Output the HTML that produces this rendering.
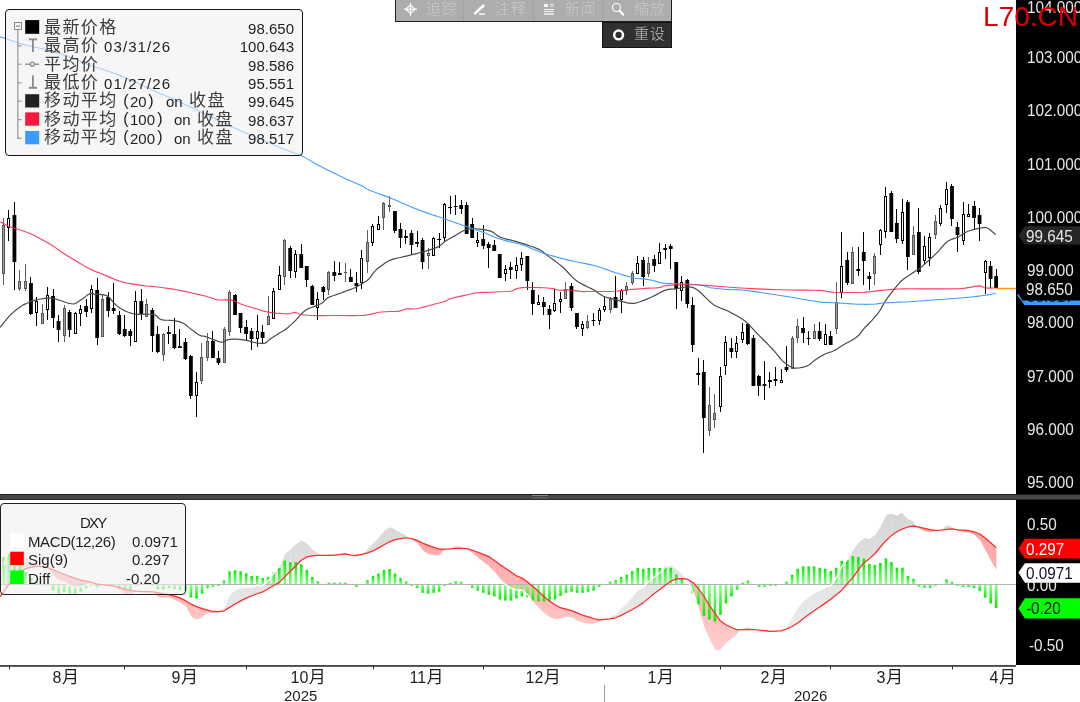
<!DOCTYPE html>
<html lang="zh-CN">
<head>
<meta charset="utf-8">
<title>DXY</title>
<style>
html,body{margin:0;padding:0;background:#fff;}
body{width:1080px;height:702px;overflow:hidden;position:relative;font-family:"Liberation Sans","Noto Sans CJK SC",sans-serif;}
.a{position:absolute;white-space:pre;line-height:1;}
.cj{font-family:"Liberation Sans","Noto Sans CJK SC",sans-serif;}
.lg{font-size:15px;color:#1e1e1e;}
.lc{font-size:17px;color:#3c3c3c;letter-spacing:1.4px;font-weight:400;}
.ax{font-size:16px;color:#e8e8e8;transform:scaleX(0.955);transform-origin:0 0;}
.xl{font-size:16px;color:#1e1e1e;}
.tb{font-size:15px;color:#c8c8c8;font-weight:300;letter-spacing:0.8px;}
svg{position:absolute;left:0;top:0;}
</style>
</head>
<body>
<svg width="1080" height="702" viewBox="0 0 1080 702">
<defs>
<linearGradient id="gu" x1="0" y1="0" x2="0" y2="1"><stop offset="0" stop-color="#00f000"/><stop offset="1" stop-color="#8cff8c"/></linearGradient>
<linearGradient id="gd" x1="0" y1="0" x2="0" y2="1"><stop offset="0" stop-color="#8cff8c"/><stop offset="1" stop-color="#00f000"/></linearGradient>
<linearGradient id="fg" gradientUnits="userSpaceOnUse" x1="0" y1="510" x2="0" y2="650"><stop offset="0" stop-color="#d5d5d5"/><stop offset="1" stop-color="#efefef"/></linearGradient>
<linearGradient id="fp" gradientUnits="userSpaceOnUse" x1="0" y1="510" x2="0" y2="650"><stop offset="0" stop-color="#ff9a9a"/><stop offset="1" stop-color="#ffcdcd"/></linearGradient>
<clipPath id="cm"><rect x="0" y="0" width="1016" height="494"/></clipPath>
<clipPath id="cd"><rect x="0" y="500" width="1016" height="165"/></clipPath>
</defs>
<g clip-path="url(#cm)" shape-rendering="crispEdges">
<rect x="3" y="218" width="1" height="67" fill="#5e5e5e"/>
<path d="M2 225h3v49h-3z" fill="#555"/><rect x="3" y="226" width="1" height="47" fill="#a0a0a0"/>
<rect x="8" y="210" width="1" height="31" fill="#000"/>
<path d="M7 218h3v10h-3z" fill="#000"/><rect x="8" y="219" width="1" height="8" fill="#fff"/>
<rect x="14" y="202" width="1" height="88" fill="#000"/>
<rect x="12.53" y="215" width="3.8" height="47" fill="#000" shape-rendering="geometricPrecision"/>
<rect x="19" y="270" width="1" height="21" fill="#5e5e5e"/>
<path d="M18 281h3v8h-3z" fill="#555"/><rect x="19" y="282" width="1" height="6" fill="#a0a0a0"/>
<rect x="25" y="264" width="1" height="27" fill="#5e5e5e"/>
<path d="M24 281h3v8h-3z" fill="#555"/><rect x="25" y="282" width="1" height="6" fill="#a0a0a0"/>
<rect x="30" y="277" width="1" height="38" fill="#000"/>
<rect x="29.07" y="283" width="3.8" height="31" fill="#000" shape-rendering="geometricPrecision"/>
<rect x="36" y="297" width="1" height="29" fill="#000"/>
<path d="M35 301h3v12h-3z" fill="#000"/><rect x="36" y="302" width="1" height="10" fill="#fff"/>
<rect x="42" y="304" width="1" height="20" fill="#5e5e5e"/>
<path d="M41 313h3v11h-3z" fill="#555"/><rect x="42" y="314" width="1" height="9" fill="#a0a0a0"/>
<rect x="47" y="287" width="1" height="33" fill="#000"/>
<path d="M46 295h3v15h-3z" fill="#000"/><rect x="47" y="296" width="1" height="13" fill="#fff"/>
<rect x="53" y="289" width="1" height="39" fill="#000"/>
<rect x="51.13" y="296" width="3.8" height="22" fill="#000" shape-rendering="geometricPrecision"/>
<rect x="58" y="315" width="1" height="27" fill="#000"/>
<rect x="56.65" y="321" width="3.8" height="9" fill="#000" shape-rendering="geometricPrecision"/>
<rect x="64" y="305" width="1" height="37" fill="#5e5e5e"/>
<path d="M63 308h3v28h-3z" fill="#555"/><rect x="64" y="309" width="1" height="26" fill="#a0a0a0"/>
<rect x="69" y="310" width="1" height="27" fill="#000"/>
<rect x="67.68" y="312" width="3.8" height="18" fill="#000" shape-rendering="geometricPrecision"/>
<rect x="75" y="312" width="1" height="22" fill="#000"/>
<path d="M74 313h3v21h-3z" fill="#000"/><rect x="75" y="314" width="1" height="19" fill="#fff"/>
<rect x="80" y="305" width="1" height="21" fill="#000"/>
<path d="M79 309h3v5h-3z" fill="#000"/><rect x="80" y="310" width="1" height="3" fill="#fff"/>
<rect x="86" y="299" width="1" height="18" fill="#000"/>
<rect x="84.22" y="306" width="3.8" height="6" fill="#000" shape-rendering="geometricPrecision"/>
<rect x="91" y="285" width="1" height="28" fill="#000"/>
<path d="M90 289h3v20h-3z" fill="#000"/><rect x="91" y="290" width="1" height="18" fill="#fff"/>
<rect x="97" y="278" width="1" height="67" fill="#000"/>
<rect x="95.25" y="290" width="3.8" height="48" fill="#000" shape-rendering="geometricPrecision"/>
<rect x="102" y="294" width="1" height="43" fill="#5e5e5e"/>
<path d="M101 299h3v38h-3z" fill="#555"/><rect x="102" y="300" width="1" height="36" fill="#a0a0a0"/>
<rect x="108" y="292" width="1" height="25" fill="#000"/>
<rect x="106.28" y="297" width="3.8" height="14" fill="#000" shape-rendering="geometricPrecision"/>
<rect x="113" y="283" width="1" height="31" fill="#000"/>
<rect x="111.80" y="308" width="3.8" height="3" fill="#000" shape-rendering="geometricPrecision"/>
<rect x="119" y="311" width="1" height="24" fill="#000"/>
<rect x="117.31" y="315" width="3.8" height="19" fill="#000" shape-rendering="geometricPrecision"/>
<rect x="124" y="315" width="1" height="22" fill="#000"/>
<rect x="122.83" y="329" width="3.8" height="7" fill="#000" shape-rendering="geometricPrecision"/>
<rect x="130" y="329" width="1" height="17" fill="#000"/>
<rect x="128.34" y="331" width="3.8" height="5" fill="#000" shape-rendering="geometricPrecision"/>
<rect x="135" y="291" width="1" height="51" fill="#000"/>
<path d="M134 301h3v41h-3z" fill="#000"/><rect x="135" y="302" width="1" height="39" fill="#fff"/>
<rect x="141" y="289" width="1" height="31" fill="#000"/>
<rect x="139.38" y="301" width="3.8" height="13" fill="#000" shape-rendering="geometricPrecision"/>
<rect x="146" y="299" width="1" height="18" fill="#5e5e5e"/>
<path d="M145 304h3v13h-3z" fill="#555"/><rect x="146" y="305" width="1" height="11" fill="#a0a0a0"/>
<rect x="152" y="308" width="1" height="44" fill="#000"/>
<rect x="150.41" y="310" width="3.8" height="26" fill="#000" shape-rendering="geometricPrecision"/>
<rect x="157" y="326" width="1" height="27" fill="#000"/>
<rect x="155.92" y="334" width="3.8" height="18" fill="#000" shape-rendering="geometricPrecision"/>
<rect x="163" y="333" width="1" height="28" fill="#5e5e5e"/>
<path d="M162 334h3v21h-3z" fill="#555"/><rect x="163" y="335" width="1" height="19" fill="#a0a0a0"/>
<rect x="168" y="326" width="1" height="18" fill="#000"/>
<rect x="166.95" y="332" width="3.8" height="2" fill="#000" shape-rendering="geometricPrecision"/>
<rect x="174" y="318" width="1" height="31" fill="#000"/>
<rect x="172.47" y="334" width="3.8" height="14" fill="#000" shape-rendering="geometricPrecision"/>
<rect x="179" y="329" width="1" height="19" fill="#000"/>
<rect x="177.98" y="346" width="3.8" height="2" fill="#000" shape-rendering="geometricPrecision"/>
<rect x="185" y="338" width="1" height="22" fill="#000"/>
<rect x="183.49" y="342" width="3.8" height="17" fill="#000" shape-rendering="geometricPrecision"/>
<rect x="190" y="355" width="1" height="44" fill="#000"/>
<rect x="189.01" y="356" width="3.8" height="40" fill="#000" shape-rendering="geometricPrecision"/>
<rect x="196" y="372" width="1" height="45" fill="#000"/>
<path d="M195 382h3v14h-3z" fill="#000"/><rect x="196" y="383" width="1" height="12" fill="#fff"/>
<rect x="201" y="343" width="1" height="41" fill="#5e5e5e"/>
<path d="M200 357h3v24h-3z" fill="#555"/><rect x="201" y="358" width="1" height="22" fill="#a0a0a0"/>
<rect x="207" y="333" width="1" height="28" fill="#5e5e5e"/>
<path d="M206 341h3v17h-3z" fill="#555"/><rect x="207" y="342" width="1" height="15" fill="#a0a0a0"/>
<rect x="212" y="331" width="1" height="27" fill="#000"/>
<rect x="211.07" y="341" width="3.8" height="17" fill="#000" shape-rendering="geometricPrecision"/>
<rect x="218" y="351" width="1" height="14" fill="#000"/>
<rect x="216.58" y="358" width="3.8" height="5" fill="#000" shape-rendering="geometricPrecision"/>
<rect x="224" y="327" width="1" height="36" fill="#5e5e5e"/>
<path d="M223 329h3v34h-3z" fill="#555"/><rect x="224" y="330" width="1" height="32" fill="#a0a0a0"/>
<rect x="229" y="290" width="1" height="46" fill="#5e5e5e"/>
<path d="M228 292h3v40h-3z" fill="#555"/><rect x="229" y="293" width="1" height="38" fill="#a0a0a0"/>
<rect x="235" y="294" width="1" height="21" fill="#000"/>
<rect x="233.13" y="295" width="3.8" height="20" fill="#000" shape-rendering="geometricPrecision"/>
<rect x="240" y="313" width="1" height="20" fill="#000"/>
<rect x="238.64" y="313" width="3.8" height="15" fill="#000" shape-rendering="geometricPrecision"/>
<rect x="246" y="320" width="1" height="21" fill="#000"/>
<rect x="244.16" y="327" width="3.8" height="7" fill="#000" shape-rendering="geometricPrecision"/>
<rect x="251" y="328" width="1" height="22" fill="#000"/>
<rect x="249.67" y="331" width="3.8" height="8" fill="#000" shape-rendering="geometricPrecision"/>
<rect x="257" y="315" width="1" height="32" fill="#000"/>
<path d="M256 331h3v8h-3z" fill="#000"/><rect x="257" y="332" width="1" height="6" fill="#fff"/>
<rect x="262" y="325" width="1" height="19" fill="#000"/>
<rect x="260.70" y="332" width="3.8" height="6" fill="#000" shape-rendering="geometricPrecision"/>
<rect x="268" y="296" width="1" height="29" fill="#5e5e5e"/>
<path d="M267 316h3v9h-3z" fill="#555"/><rect x="268" y="317" width="1" height="7" fill="#a0a0a0"/>
<rect x="273" y="288" width="1" height="31" fill="#000"/>
<path d="M272 291h3v28h-3z" fill="#000"/><rect x="273" y="292" width="1" height="26" fill="#fff"/>
<rect x="279" y="266" width="1" height="24" fill="#000"/>
<path d="M278 275h3v15h-3z" fill="#000"/><rect x="279" y="276" width="1" height="13" fill="#fff"/>
<rect x="284" y="239" width="1" height="46" fill="#5e5e5e"/>
<path d="M283 240h3v37h-3z" fill="#555"/><rect x="284" y="241" width="1" height="35" fill="#a0a0a0"/>
<rect x="290" y="246" width="1" height="32" fill="#000"/>
<rect x="288.28" y="248" width="3.8" height="23" fill="#000" shape-rendering="geometricPrecision"/>
<rect x="295" y="250" width="1" height="28" fill="#000"/>
<path d="M294 254h3v18h-3z" fill="#000"/><rect x="295" y="255" width="1" height="16" fill="#fff"/>
<rect x="301" y="244" width="1" height="24" fill="#000"/>
<rect x="299.31" y="254" width="3.8" height="14" fill="#000" shape-rendering="geometricPrecision"/>
<rect x="306" y="266" width="1" height="21" fill="#000"/>
<rect x="304.82" y="266" width="3.8" height="14" fill="#000" shape-rendering="geometricPrecision"/>
<rect x="312" y="285" width="1" height="20" fill="#000"/>
<rect x="310.34" y="286" width="3.8" height="19" fill="#000" shape-rendering="geometricPrecision"/>
<rect x="317" y="292" width="1" height="28" fill="#000"/>
<path d="M316 299h3v9h-3z" fill="#000"/><rect x="317" y="300" width="1" height="7" fill="#fff"/>
<rect x="323" y="286" width="1" height="14" fill="#000"/>
<rect x="321.37" y="287" width="3.8" height="5" fill="#000" shape-rendering="geometricPrecision"/>
<rect x="328" y="271" width="1" height="24" fill="#5e5e5e"/>
<path d="M327 272h3v18h-3z" fill="#555"/><rect x="328" y="273" width="1" height="16" fill="#a0a0a0"/>
<rect x="334" y="261" width="1" height="20" fill="#000"/>
<rect x="332.40" y="272" width="3.8" height="4" fill="#000" shape-rendering="geometricPrecision"/>
<rect x="339" y="262" width="1" height="13" fill="#000"/>
<rect x="337.91" y="273" width="3.8" height="2" fill="#000" shape-rendering="geometricPrecision"/>
<rect x="345" y="263" width="1" height="19" fill="#5e5e5e"/>
<rect x="344" y="272" width="3" height="1" fill="#555"/>
<rect x="350" y="269" width="1" height="13" fill="#000"/>
<rect x="348.94" y="277" width="3.8" height="5" fill="#000" shape-rendering="geometricPrecision"/>
<rect x="356" y="272" width="1" height="20" fill="#000"/>
<rect x="354.46" y="283" width="3.8" height="3" fill="#000" shape-rendering="geometricPrecision"/>
<rect x="361" y="250" width="1" height="39" fill="#000"/>
<path d="M360 258h3v25h-3z" fill="#000"/><rect x="361" y="259" width="1" height="23" fill="#fff"/>
<rect x="367" y="230" width="1" height="43" fill="#5e5e5e"/>
<path d="M366 242h3v20h-3z" fill="#555"/><rect x="367" y="243" width="1" height="18" fill="#a0a0a0"/>
<rect x="372" y="224" width="1" height="22" fill="#000"/>
<path d="M371 226h3v17h-3z" fill="#000"/><rect x="372" y="227" width="1" height="15" fill="#fff"/>
<rect x="378" y="216" width="1" height="14" fill="#000"/>
<path d="M377 224h3v6h-3z" fill="#000"/><rect x="378" y="225" width="1" height="4" fill="#fff"/>
<rect x="383" y="202" width="1" height="28" fill="#5e5e5e"/>
<path d="M382 203h3v15h-3z" fill="#555"/><rect x="383" y="204" width="1" height="13" fill="#a0a0a0"/>
<rect x="389" y="196" width="1" height="16" fill="#5e5e5e"/>
<rect x="388" y="205" width="3" height="2" fill="#555"/>
<rect x="394" y="211" width="1" height="22" fill="#000"/>
<rect x="393.06" y="211" width="3.8" height="20" fill="#000" shape-rendering="geometricPrecision"/>
<rect x="400" y="223" width="1" height="25" fill="#000"/>
<rect x="398.58" y="229" width="3.8" height="9" fill="#000" shape-rendering="geometricPrecision"/>
<rect x="405" y="230" width="1" height="14" fill="#000"/>
<rect x="404.09" y="236" width="3.8" height="2" fill="#000" shape-rendering="geometricPrecision"/>
<rect x="411" y="230" width="1" height="24" fill="#000"/>
<rect x="409.61" y="233" width="3.8" height="12" fill="#000" shape-rendering="geometricPrecision"/>
<rect x="417" y="231" width="1" height="16" fill="#000"/>
<rect x="415.12" y="242" width="3.8" height="2" fill="#000" shape-rendering="geometricPrecision"/>
<rect x="422" y="238" width="1" height="31" fill="#000"/>
<rect x="420.64" y="240" width="3.8" height="22" fill="#000" shape-rendering="geometricPrecision"/>
<rect x="428" y="248" width="1" height="21" fill="#5e5e5e"/>
<path d="M427 253h3v3h-3z" fill="#555"/><rect x="428" y="254" width="1" height="1" fill="#a0a0a0"/>
<rect x="433" y="237" width="1" height="19" fill="#000"/>
<path d="M432 238h3v18h-3z" fill="#000"/><rect x="433" y="239" width="1" height="16" fill="#fff"/>
<rect x="439" y="233" width="1" height="15" fill="#000"/>
<rect x="437.19" y="239" width="3.8" height="1" fill="#000" shape-rendering="geometricPrecision"/>
<rect x="444" y="203" width="1" height="39" fill="#000"/>
<path d="M443 204h3v34h-3z" fill="#000"/><rect x="444" y="205" width="1" height="32" fill="#fff"/>
<rect x="450" y="196" width="1" height="18" fill="#000"/>
<rect x="448.21" y="207" width="3.8" height="1" fill="#000" shape-rendering="geometricPrecision"/>
<rect x="455" y="195" width="1" height="20" fill="#000"/>
<rect x="453.73" y="206" width="3.8" height="1" fill="#000" shape-rendering="geometricPrecision"/>
<rect x="461" y="200" width="1" height="14" fill="#000"/>
<rect x="459.24" y="205" width="3.8" height="4" fill="#000" shape-rendering="geometricPrecision"/>
<rect x="466" y="202" width="1" height="32" fill="#000"/>
<rect x="464.76" y="205" width="3.8" height="29" fill="#000" shape-rendering="geometricPrecision"/>
<rect x="472" y="218" width="1" height="20" fill="#000"/>
<rect x="470.27" y="224" width="3.8" height="14" fill="#000" shape-rendering="geometricPrecision"/>
<rect x="477" y="232" width="1" height="15" fill="#000"/>
<path d="M476 240h3v3h-3z" fill="#000"/><rect x="477" y="241" width="1" height="1" fill="#fff"/>
<rect x="483" y="225" width="1" height="24" fill="#000"/>
<rect x="481.30" y="239" width="3.8" height="7" fill="#000" shape-rendering="geometricPrecision"/>
<rect x="488" y="242" width="1" height="26" fill="#000"/>
<rect x="486.82" y="244" width="3.8" height="4" fill="#000" shape-rendering="geometricPrecision"/>
<rect x="494" y="240" width="1" height="11" fill="#000"/>
<rect x="492.33" y="245" width="3.8" height="6" fill="#000" shape-rendering="geometricPrecision"/>
<rect x="499" y="254" width="1" height="24" fill="#000"/>
<rect x="497.85" y="254" width="3.8" height="24" fill="#000" shape-rendering="geometricPrecision"/>
<rect x="505" y="265" width="1" height="16" fill="#000"/>
<path d="M504 269h3v5h-3z" fill="#000"/><rect x="505" y="270" width="1" height="3" fill="#fff"/>
<rect x="510" y="262" width="1" height="17" fill="#000"/>
<rect x="508.88" y="267" width="3.8" height="3" fill="#000" shape-rendering="geometricPrecision"/>
<rect x="516" y="257" width="1" height="22" fill="#000"/>
<path d="M515 265h3v6h-3z" fill="#000"/><rect x="516" y="266" width="1" height="4" fill="#fff"/>
<rect x="521" y="252" width="1" height="19" fill="#000"/>
<path d="M520 258h3v7h-3z" fill="#000"/><rect x="521" y="259" width="1" height="5" fill="#fff"/>
<rect x="527" y="256" width="1" height="34" fill="#000"/>
<rect x="525.42" y="256" width="3.8" height="25" fill="#000" shape-rendering="geometricPrecision"/>
<rect x="532" y="282" width="1" height="33" fill="#000"/>
<rect x="530.94" y="290" width="3.8" height="14" fill="#000" shape-rendering="geometricPrecision"/>
<rect x="538" y="295" width="1" height="10" fill="#000"/>
<path d="M537 302h3v3h-3z" fill="#000"/><rect x="538" y="303" width="1" height="1" fill="#fff"/>
<rect x="543" y="297" width="1" height="18" fill="#000"/>
<rect x="541.97" y="302" width="3.8" height="5" fill="#000" shape-rendering="geometricPrecision"/>
<rect x="549" y="305" width="1" height="24" fill="#000"/>
<rect x="547.49" y="309" width="3.8" height="6" fill="#000" shape-rendering="geometricPrecision"/>
<rect x="554" y="289" width="1" height="23" fill="#000"/>
<path d="M553 303h3v8h-3z" fill="#000"/><rect x="554" y="304" width="1" height="6" fill="#fff"/>
<rect x="560" y="292" width="1" height="21" fill="#000"/>
<path d="M559 299h3v3h-3z" fill="#000"/><rect x="560" y="300" width="1" height="1" fill="#fff"/>
<rect x="565" y="282" width="1" height="17" fill="#5e5e5e"/>
<path d="M564 289h3v10h-3z" fill="#555"/><rect x="565" y="290" width="1" height="8" fill="#a0a0a0"/>
<rect x="571" y="283" width="1" height="28" fill="#000"/>
<rect x="569.54" y="286" width="3.8" height="22" fill="#000" shape-rendering="geometricPrecision"/>
<rect x="576" y="313" width="1" height="16" fill="#000"/>
<rect x="575.06" y="313" width="3.8" height="14" fill="#000" shape-rendering="geometricPrecision"/>
<rect x="582" y="321" width="1" height="15" fill="#000"/>
<path d="M581 324h3v5h-3z" fill="#000"/><rect x="582" y="325" width="1" height="3" fill="#fff"/>
<rect x="587" y="315" width="1" height="14" fill="#5e5e5e"/>
<path d="M586 321h3v7h-3z" fill="#555"/><rect x="587" y="322" width="1" height="5" fill="#a0a0a0"/>
<rect x="593" y="313" width="1" height="13" fill="#000"/>
<rect x="591.61" y="320" width="3.8" height="1" fill="#000" shape-rendering="geometricPrecision"/>
<rect x="599" y="308" width="1" height="17" fill="#000"/>
<path d="M598 310h3v11h-3z" fill="#000"/><rect x="599" y="311" width="1" height="9" fill="#fff"/>
<rect x="604" y="297" width="1" height="15" fill="#000"/>
<path d="M603 306h3v4h-3z" fill="#000"/><rect x="604" y="307" width="1" height="2" fill="#fff"/>
<rect x="610" y="297" width="1" height="16" fill="#5e5e5e"/>
<path d="M609 299h3v11h-3z" fill="#555"/><rect x="610" y="300" width="1" height="9" fill="#a0a0a0"/>
<rect x="615" y="276" width="1" height="32" fill="#000"/>
<rect x="613.66" y="297" width="3.8" height="11" fill="#000" shape-rendering="geometricPrecision"/>
<rect x="621" y="289" width="1" height="24" fill="#000"/>
<path d="M620 290h3v10h-3z" fill="#000"/><rect x="621" y="291" width="1" height="8" fill="#fff"/>
<rect x="626" y="282" width="1" height="13" fill="#5e5e5e"/>
<path d="M625 286h3v5h-3z" fill="#555"/><rect x="626" y="287" width="1" height="3" fill="#a0a0a0"/>
<rect x="632" y="271" width="1" height="14" fill="#5e5e5e"/>
<path d="M631 273h3v10h-3z" fill="#555"/><rect x="632" y="274" width="1" height="8" fill="#a0a0a0"/>
<rect x="637" y="256" width="1" height="18" fill="#000"/>
<path d="M636 263h3v11h-3z" fill="#000"/><rect x="637" y="264" width="1" height="9" fill="#fff"/>
<rect x="643" y="257" width="1" height="29" fill="#000"/>
<rect x="641.24" y="260" width="3.8" height="17" fill="#000" shape-rendering="geometricPrecision"/>
<rect x="648" y="257" width="1" height="20" fill="#5e5e5e"/>
<path d="M647 263h3v11h-3z" fill="#555"/><rect x="648" y="264" width="1" height="9" fill="#a0a0a0"/>
<rect x="654" y="255" width="1" height="17" fill="#000"/>
<rect x="652.27" y="259" width="3.8" height="7" fill="#000" shape-rendering="geometricPrecision"/>
<rect x="659" y="243" width="1" height="21" fill="#000"/>
<path d="M658 252h3v12h-3z" fill="#000"/><rect x="659" y="253" width="1" height="10" fill="#fff"/>
<rect x="665" y="244" width="1" height="15" fill="#000"/>
<rect x="663.30" y="248" width="3.8" height="2" fill="#000" shape-rendering="geometricPrecision"/>
<rect x="670" y="244" width="1" height="25" fill="#000"/>
<rect x="668.81" y="246" width="3.8" height="3" fill="#000" shape-rendering="geometricPrecision"/>
<rect x="676" y="262" width="1" height="47" fill="#000"/>
<rect x="674.33" y="262" width="3.8" height="27" fill="#000" shape-rendering="geometricPrecision"/>
<rect x="681" y="276" width="1" height="25" fill="#000"/>
<path d="M680 282h3v9h-3z" fill="#000"/><rect x="681" y="283" width="1" height="7" fill="#fff"/>
<rect x="687" y="279" width="1" height="29" fill="#000"/>
<rect x="685.36" y="280" width="3.8" height="24" fill="#000" shape-rendering="geometricPrecision"/>
<rect x="692" y="297" width="1" height="55" fill="#000"/>
<rect x="690.88" y="305" width="3.8" height="40" fill="#000" shape-rendering="geometricPrecision"/>
<rect x="698" y="358" width="1" height="27" fill="#000"/>
<rect x="696.39" y="373" width="3.8" height="2" fill="#000" shape-rendering="geometricPrecision"/>
<rect x="703" y="360" width="1" height="93" fill="#000"/>
<rect x="701.90" y="372" width="3.8" height="46" fill="#000" shape-rendering="geometricPrecision"/>
<rect x="709" y="387" width="1" height="49" fill="#5e5e5e"/>
<path d="M708 405h3v26h-3z" fill="#555"/><rect x="709" y="406" width="1" height="24" fill="#a0a0a0"/>
<rect x="714" y="394" width="1" height="34" fill="#5e5e5e"/>
<path d="M713 413h3v7h-3z" fill="#555"/><rect x="714" y="414" width="1" height="5" fill="#a0a0a0"/>
<rect x="720" y="367" width="1" height="45" fill="#000"/>
<path d="M719 376h3v31h-3z" fill="#000"/><rect x="720" y="377" width="1" height="29" fill="#fff"/>
<rect x="725" y="336" width="1" height="39" fill="#000"/>
<path d="M724 342h3v24h-3z" fill="#000"/><rect x="725" y="343" width="1" height="22" fill="#fff"/>
<rect x="731" y="338" width="1" height="20" fill="#000"/>
<rect x="729.48" y="348" width="3.8" height="4" fill="#000" shape-rendering="geometricPrecision"/>
<rect x="736" y="336" width="1" height="22" fill="#000"/>
<path d="M735 343h3v9h-3z" fill="#000"/><rect x="736" y="344" width="1" height="7" fill="#fff"/>
<rect x="742" y="323" width="1" height="20" fill="#000"/>
<path d="M741 332h3v8h-3z" fill="#000"/><rect x="742" y="333" width="1" height="6" fill="#fff"/>
<rect x="747" y="324" width="1" height="21" fill="#000"/>
<rect x="746.02" y="324" width="3.8" height="20" fill="#000" shape-rendering="geometricPrecision"/>
<rect x="753" y="335" width="1" height="51" fill="#000"/>
<rect x="751.54" y="338" width="3.8" height="48" fill="#000" shape-rendering="geometricPrecision"/>
<rect x="758" y="375" width="1" height="21" fill="#000"/>
<rect x="757.05" y="376" width="3.8" height="10" fill="#000" shape-rendering="geometricPrecision"/>
<rect x="764" y="361" width="1" height="39" fill="#000"/>
<rect x="762.57" y="384" width="3.8" height="2" fill="#000" shape-rendering="geometricPrecision"/>
<rect x="769" y="372" width="1" height="16" fill="#000"/>
<rect x="768.08" y="380" width="3.8" height="2" fill="#000" shape-rendering="geometricPrecision"/>
<rect x="775" y="367" width="1" height="19" fill="#000"/>
<rect x="773.60" y="379" width="3.8" height="2" fill="#000" shape-rendering="geometricPrecision"/>
<rect x="781" y="369" width="1" height="14" fill="#000"/>
<path d="M780 380h3v3h-3z" fill="#000"/><rect x="781" y="381" width="1" height="1" fill="#fff"/>
<rect x="786" y="346" width="1" height="26" fill="#000"/>
<rect x="784.63" y="367" width="3.8" height="3" fill="#000" shape-rendering="geometricPrecision"/>
<rect x="792" y="336" width="1" height="33" fill="#5e5e5e"/>
<path d="M791 338h3v31h-3z" fill="#555"/><rect x="792" y="339" width="1" height="29" fill="#a0a0a0"/>
<rect x="797" y="319" width="1" height="24" fill="#5e5e5e"/>
<path d="M796 326h3v12h-3z" fill="#555"/><rect x="797" y="327" width="1" height="10" fill="#a0a0a0"/>
<rect x="803" y="317" width="1" height="26" fill="#000"/>
<rect x="801.17" y="328" width="3.8" height="5" fill="#000" shape-rendering="geometricPrecision"/>
<rect x="808" y="331" width="1" height="14" fill="#000"/>
<rect x="806.69" y="338" width="3.8" height="1" fill="#000" shape-rendering="geometricPrecision"/>
<rect x="814" y="324" width="1" height="15" fill="#5e5e5e"/>
<path d="M813 331h3v8h-3z" fill="#555"/><rect x="814" y="332" width="1" height="6" fill="#a0a0a0"/>
<rect x="819" y="322" width="1" height="19" fill="#000"/>
<rect x="817.72" y="331" width="3.8" height="8" fill="#000" shape-rendering="geometricPrecision"/>
<rect x="825" y="324" width="1" height="21" fill="#000"/>
<path d="M824 334h3v11h-3z" fill="#000"/><rect x="825" y="335" width="1" height="9" fill="#fff"/>
<rect x="830" y="331" width="1" height="14" fill="#000"/>
<rect x="828.75" y="336" width="3.8" height="9" fill="#000" shape-rendering="geometricPrecision"/>
<rect x="836" y="282" width="1" height="52" fill="#5e5e5e"/>
<path d="M835 302h3v27h-3z" fill="#555"/><rect x="836" y="303" width="1" height="25" fill="#a0a0a0"/>
<rect x="841" y="232" width="1" height="66" fill="#000"/>
<path d="M840 266h3v27h-3z" fill="#000"/><rect x="841" y="267" width="1" height="25" fill="#fff"/>
<rect x="847" y="252" width="1" height="33" fill="#000"/>
<rect x="845.29" y="260" width="3.8" height="23" fill="#000" shape-rendering="geometricPrecision"/>
<rect x="852" y="247" width="1" height="37" fill="#5e5e5e"/>
<path d="M851 252h3v32h-3z" fill="#555"/><rect x="852" y="253" width="1" height="30" fill="#a0a0a0"/>
<rect x="858" y="247" width="1" height="29" fill="#000"/>
<rect x="856.32" y="269" width="3.8" height="2" fill="#000" shape-rendering="geometricPrecision"/>
<rect x="863" y="232" width="1" height="53" fill="#000"/>
<rect x="861.84" y="252" width="3.8" height="9" fill="#000" shape-rendering="geometricPrecision"/>
<rect x="869" y="272" width="1" height="18" fill="#000"/>
<rect x="867.35" y="276" width="3.8" height="3" fill="#000" shape-rendering="geometricPrecision"/>
<rect x="874" y="253" width="1" height="32" fill="#5e5e5e"/>
<path d="M873 256h3v18h-3z" fill="#555"/><rect x="874" y="257" width="1" height="16" fill="#a0a0a0"/>
<rect x="880" y="229" width="1" height="26" fill="#000"/>
<path d="M879 230h3v15h-3z" fill="#000"/><rect x="880" y="231" width="1" height="13" fill="#fff"/>
<rect x="885" y="187" width="1" height="51" fill="#000"/>
<path d="M884 196h3v36h-3z" fill="#000"/><rect x="885" y="197" width="1" height="34" fill="#fff"/>
<rect x="891" y="191" width="1" height="41" fill="#000"/>
<rect x="889.41" y="193" width="3.8" height="39" fill="#000" shape-rendering="geometricPrecision"/>
<rect x="896" y="209" width="1" height="34" fill="#000"/>
<rect x="894.93" y="223" width="3.8" height="16" fill="#000" shape-rendering="geometricPrecision"/>
<rect x="902" y="199" width="1" height="45" fill="#000"/>
<path d="M901 212h3v29h-3z" fill="#000"/><rect x="902" y="213" width="1" height="27" fill="#fff"/>
<rect x="907" y="200" width="1" height="70" fill="#000"/>
<rect x="905.96" y="202" width="3.8" height="55" fill="#000" shape-rendering="geometricPrecision"/>
<rect x="913" y="226" width="1" height="29" fill="#5e5e5e"/>
<path d="M912 235h3v20h-3z" fill="#555"/><rect x="913" y="236" width="1" height="18" fill="#a0a0a0"/>
<rect x="918" y="208" width="1" height="66" fill="#000"/>
<rect x="916.99" y="232" width="3.8" height="40" fill="#000" shape-rendering="geometricPrecision"/>
<rect x="924" y="236" width="1" height="29" fill="#000"/>
<path d="M923 246h3v15h-3z" fill="#000"/><rect x="924" y="247" width="1" height="13" fill="#fff"/>
<rect x="929" y="233" width="1" height="33" fill="#000"/>
<path d="M928 237h3v21h-3z" fill="#000"/><rect x="929" y="238" width="1" height="19" fill="#fff"/>
<rect x="935" y="215" width="1" height="24" fill="#5e5e5e"/>
<path d="M934 221h3v14h-3z" fill="#555"/><rect x="935" y="222" width="1" height="12" fill="#a0a0a0"/>
<rect x="940" y="205" width="1" height="21" fill="#000"/>
<path d="M939 208h3v16h-3z" fill="#000"/><rect x="940" y="209" width="1" height="14" fill="#fff"/>
<rect x="946" y="182" width="1" height="31" fill="#000"/>
<path d="M945 189h3v16h-3z" fill="#000"/><rect x="946" y="190" width="1" height="14" fill="#fff"/>
<rect x="951" y="184" width="1" height="42" fill="#000"/>
<rect x="950.08" y="186" width="3.8" height="33" fill="#000" shape-rendering="geometricPrecision"/>
<rect x="957" y="222" width="1" height="30" fill="#000"/>
<rect x="955.59" y="227" width="3.8" height="8" fill="#000" shape-rendering="geometricPrecision"/>
<rect x="963" y="202" width="1" height="43" fill="#000"/>
<path d="M962 214h3v27h-3z" fill="#000"/><rect x="963" y="215" width="1" height="25" fill="#fff"/>
<rect x="968" y="204" width="1" height="13" fill="#000"/>
<path d="M967 214h3v3h-3z" fill="#000"/><rect x="968" y="215" width="1" height="1" fill="#fff"/>
<rect x="974" y="201" width="1" height="28" fill="#000"/>
<rect x="972.14" y="206" width="3.8" height="12" fill="#000" shape-rendering="geometricPrecision"/>
<rect x="979" y="208" width="1" height="33" fill="#000"/>
<rect x="977.65" y="215" width="3.8" height="9" fill="#000" shape-rendering="geometricPrecision"/>
<rect x="985" y="260" width="1" height="34" fill="#000"/>
<path d="M984 261h3v12h-3z" fill="#000"/><rect x="985" y="262" width="1" height="10" fill="#fff"/>
<rect x="990" y="261" width="1" height="27" fill="#000"/>
<rect x="988.68" y="266" width="3.8" height="13" fill="#000" shape-rendering="geometricPrecision"/>
<rect x="996" y="269" width="1" height="19" fill="#000"/>
<rect x="994.20" y="276" width="3.8" height="12" fill="#000" shape-rendering="geometricPrecision"/>
</g>
<g clip-path="url(#cm)">
<polyline points="0,327.5 1.92,325.1 4.68,321.64 7.77,317.91 10.7,314.7 13.48,312.1 16.32,309.74 19.03,307.68 21.4,306 23.35,304.83 25.01,304.09 26.46,303.56 27.8,303 28.75,302.4 29.36,301.88 30.24,301.36 32,300.8 35.09,300.08 39.09,299.27 43.3,298.57 47,298.2 49.88,298.22 52.36,298.52 54.83,299.03 57.7,299.7 61.28,300.78 65.28,302.21 69.22,303.46 72.6,304 75.2,303.57 77.3,302.49 79.2,301.1 81.2,299.7 83.41,298.16 85.66,296.39 87.8,294.77 89.7,293.7 91.26,293.42 92.57,293.67 93.77,294.12 95,294.4 96.21,294.4 97.34,294.32 98.56,294.28 100,294.4 101.79,294.62 103.81,294.91 105.88,295.42 107.8,296.3 109.5,297.73 111.09,299.59 112.63,301.56 114.2,303.3 115.77,304.76 117.32,306.1 118.91,307.34 120.6,308.5 122.43,309.59 124.37,310.61 126.34,311.52 128.3,312.3 130.16,312.95 131.99,313.49 133.89,313.9 136,314.2 138.43,314.32 141.09,314.27 143.78,314.2 146.3,314.2 148.65,314.23 150.91,314.26 153.05,314.43 155,314.9 156.55,315.88 157.79,317.23 159.16,318.59 161.1,319.6 163.93,320.07 167.35,320.23 170.87,320.32 174,320.6 176.62,321.09 178.99,321.66 181.19,322.38 183.3,323.3 185.24,324.47 187,325.86 188.76,327.37 190.7,328.9 192.99,330.59 195.5,332.44 197.93,334.14 200,335.4 201.49,335.99 202.6,336.13 203.66,336.15 205,336.4 206.7,336.97 208.6,337.67 210.62,338.44 212.7,339.2 214.92,340.07 217.29,341.04 219.61,341.84 221.7,342.2 223.4,341.89 224.85,341.11 226.3,340.23 228,339.6 230.06,339.31 232.33,339.17 234.69,339.14 237,339.2 239.22,339.34 241.42,339.57 243.66,339.89 246,340.3 248.52,340.88 251.17,341.6 253.81,342.3 256.3,342.8 258.69,343.12 261.02,343.32 263.16,343.34 265,343.1 266.29,342.58 267.16,341.81 268.05,340.84 269.4,339.7 271.46,338.28 273.94,336.6 276.51,334.9 278.8,333.4 280.65,332.29 282.27,331.41 283.88,330.47 285.7,329.2 287.9,327.43 290.32,325.33 292.71,323.17 294.8,321.2 296.46,319.48 297.86,317.87 299.15,316.35 300.5,314.9 301.87,313.5 303.21,312.17 304.61,310.93 306.2,309.8 308.04,308.83 310.06,307.99 312.15,307.21 314.2,306.4 316.23,305.59 318.29,304.81 320.28,303.98 322.1,303 323.6,301.78 324.87,300.4 326.18,299.02 327.8,297.8 329.86,296.82 332.19,295.99 334.62,295.21 337,294.4 339.28,293.55 341.56,292.7 343.83,291.85 346.1,291 348.4,290.18 350.73,289.38 353.01,288.53 355.2,287.6 357.31,286.52 359.36,285.34 361.31,284.14 363.1,283 364.68,282.04 366.09,281.18 367.43,280.22 368.8,279 370.21,277.34 371.61,275.39 373.03,273.39 374.5,271.6 375.96,270.13 377.41,268.82 378.99,267.55 380.8,266.2 382.86,264.66 385.1,263.02 387.57,261.45 390.3,260.1 393.39,259.06 396.79,258.23 400.32,257.49 403.8,256.7 407.33,255.82 410.97,254.91 414.42,254.05 417.4,253.3 419.58,252.76 421.21,252.38 422.83,251.96 425,251.3 428.12,250.33 431.8,249.16 435.46,247.89 438.5,246.6 440.58,245.32 442.07,243.99 443.48,242.62 445.3,241.2 447.75,239.71 450.53,238.15 453.4,236.59 456.1,235.1 458.63,233.59 461.1,232.06 463.45,230.7 465.6,229.7 467.47,229.17 469.12,229 470.71,229 472.4,229 474.15,228.94 475.91,228.92 477.81,228.99 480,229.2 482.65,229.53 485.64,229.96 488.66,230.56 491.4,231.4 493.58,232.61 495.44,234.12 497.42,235.69 500,237.1 503.51,238.29 507.63,239.39 511.83,240.41 515.6,241.4 518.71,242.3 521.46,243.11 524.14,243.94 527,244.9 530.29,246.04 533.79,247.3 537.16,248.61 540,249.9 541.92,251.02 543.21,252.04 544.57,253.27 546.7,255 549.98,257.39 553.96,260.26 558.14,263.38 562,266.5 565.46,269.78 568.77,273.28 571.93,276.61 574.9,279.4 577.66,281.47 580.22,283.04 582.65,284.35 585,285.6 587.2,286.74 589.26,287.69 591.31,288.64 593.5,289.8 595.83,291.31 598.23,293.04 600.77,294.75 603.5,296.2 606.47,297.3 609.63,298.18 612.93,298.97 616.3,299.8 619.88,300.82 623.66,301.93 627.33,302.87 630.6,303.4 633.21,303.43 635.39,303.1 637.53,302.5 640,301.7 642.96,300.67 646.19,299.39 649.52,297.97 652.8,296.5 656.06,294.86 659.36,293.06 662.58,291.37 665.6,290.1 668.29,289.43 670.75,289.17 673.21,289.05 675.9,288.8 679.01,288.24 682.37,287.56 685.7,287.02 688.7,286.9 691.09,287.13 693.09,287.6 695.17,288.57 697.8,290.3 701.24,293.25 705.19,297.16 709.29,301.17 713.2,304.4 716.85,306.53 720.42,308.05 723.9,309.35 727.3,310.8 730.69,312.52 734.05,314.29 737.21,316.04 740,317.7 742.19,319.08 743.92,320.27 745.62,321.63 747.7,323.5 750.28,326.06 753.13,329.11 756.14,332.37 759.2,335.6 762.37,338.79 765.68,342.05 768.95,345.31 772,348.5 774.78,351.71 777.39,354.96 779.88,357.99 782.3,360.6 784.7,362.73 787.04,364.49 789.26,365.91 791.3,367 793.03,367.7 794.52,368.03 796.03,368.09 797.8,368 799.98,367.78 802.41,367.38 804.89,366.76 807.2,365.9 809.25,364.71 811.15,363.23 813.05,361.64 815.1,360.1 817.34,358.6 819.71,357.06 822.11,355.6 824.5,354.3 826.85,353.3 829.2,352.5 831.55,351.7 833.9,350.7 836.25,349.39 838.6,347.9 840.95,346.36 843.3,344.9 845.72,343.55 848.19,342.23 850.57,340.95 852.7,339.7 854.53,338.52 856.14,337.41 857.61,336.27 859,335 860.21,333.6 861.26,332.1 862.34,330.5 863.7,328.8 865.43,326.98 867.41,325.05 869.48,323.02 871.5,320.9 873.49,318.69 875.49,316.39 877.46,313.99 879.3,311.5 880.95,308.86 882.45,306.1 883.95,303.31 885.6,300.6 887.44,297.98 889.4,295.41 891.41,292.88 893.4,290.4 895.35,287.92 897.29,285.46 899.27,283.11 901.3,281 903.37,279.23 905.47,277.71 907.67,276.27 910,274.7 912.42,273.12 914.92,271.59 917.63,269.81 920.7,267.5 924.36,264.41 928.48,260.74 932.61,256.92 936.3,253.4 939.37,250.12 942.09,246.91 944.66,244 947.3,241.6 950.09,239.94 952.92,238.85 955.68,237.96 958.3,236.9 960.65,235.55 962.8,234.1 964.98,232.7 967.4,231.5 970.29,230.51 973.48,229.66 976.58,228.96 979.2,228.4 981.2,227.98 982.79,227.71 984.14,227.58 985.4,227.6 986.48,227.74 987.34,228.01 988.21,228.47 989.3,229.2 990.85,230.43 992.69,232.05 994.41,233.62 995.6,234.7" fill="none" stroke="#4a4a4a" stroke-width="1.2" stroke-linejoin="round"/>
<polyline points="0,36.7 3.99,38.08 9.71,40.08 16.13,42.23 22.2,44.1 27.75,45.52 33.29,46.75 38.84,47.95 44.4,49.3 49.97,50.8 55.55,52.37 61.13,54.06 66.7,55.9 72.26,58 77.81,60.3 83.35,62.63 88.9,64.8 94.45,66.72 100,68.5 105.55,70.28 111.1,72.2 116.78,74.35 122.54,76.62 128.14,78.92 133.3,81.1 137.21,82.84 140.26,84.31 144.01,86.12 150,88.9 159.15,93.02 170.46,98.07 182.64,103.54 194.4,108.9 205.52,114.15 216.65,119.52 227.78,124.85 238.9,130 250.63,135.17 262.77,140.35 274.07,145.08 283.3,148.9 289.62,151.36 293.86,152.81 297.27,153.98 301.1,155.6 305.5,157.87 309.86,160.39 314.3,163.02 318.9,165.6 323.69,168.1 328.62,170.6 333.69,173.1 338.9,175.6 344.61,178.22 350.69,180.93 356.43,183.47 361.1,185.6 363.99,187.1 365.67,188.16 367.29,189.13 370,190.4 374.27,192.05 379.44,193.9 384.96,195.87 390.3,197.9 395.4,200.04 400.51,202.31 405.59,204.57 410.6,206.7 415.77,208.76 421.04,210.78 425.94,212.61 430,214.1 432.77,215.06 434.62,215.62 436.28,216.09 438.5,216.8 441.52,217.83 444.93,219.02 448.5,220.27 452,221.5 455.26,222.65 458.43,223.78 461.79,224.96 465.6,226.3 470.28,227.9 475.58,229.69 480.73,231.46 485,233 487.9,234.2 489.92,235.2 491.78,236.12 494.2,237.1 497.42,238.18 501.04,239.29 504.81,240.38 508.5,241.4 511.98,242.25 515.41,242.98 518.93,243.79 522.7,244.9 527,246.52 531.66,248.48 536.17,250.43 540,252 542.63,252.99 544.48,253.62 546.38,254.2 549.2,255 553.26,256.14 558.08,257.46 563.28,258.82 568.5,260.1 574.01,261.32 579.88,262.52 585.44,263.64 590,264.6 593.05,265.29 595.05,265.77 596.83,266.27 599.2,267 602.42,268.08 606.04,269.38 609.81,270.74 613.5,272 617.19,273.18 620.96,274.33 624.55,275.4 627.7,276.3 630.24,277.01 632.34,277.57 634.27,278.02 636.3,278.4 638.49,278.66 640.7,278.79 642.89,278.91 645,279.1 646.96,279.37 648.81,279.68 650.7,280.05 652.8,280.5 655.06,281.11 657.42,281.85 660.02,282.56 663,283.1 666.36,283.37 670.04,283.48 674.08,283.55 678.5,283.7 683.71,283.94 689.56,284.22 695.25,284.56 700,285 703.21,285.6 705.44,286.31 707.59,287.05 710.6,287.7 714.91,288.26 719.97,288.77 725.17,289.23 729.9,289.6 733.27,289.72 735.84,289.65 739.22,289.73 745,290.3 754.83,291.64 767.46,293.52 780.11,295.46 790,297 795.99,297.99 799.69,298.67 802.47,299.23 805.7,299.8 809.6,300.45 813.5,301.08 817.4,301.64 821.3,302.1 825.07,302.39 828.75,302.56 832.63,302.7 837,302.9 842.24,303.22 848.1,303.6 853.91,303.95 859,304.2 863.16,304.32 866.74,304.36 869.99,304.32 873.1,304.2 875.94,303.95 878.45,303.6 881.01,303.22 884,302.9 887.71,302.66 891.89,302.44 896.04,302.26 899.7,302.1 901.77,302.04 902.83,302.07 904.9,302.01 910,301.7 919.92,301.02 933.17,300.07 946.84,299.07 958,298.2 965.82,297.52 971.87,296.93 976.86,296.37 981.5,295.8 986.02,295.14 990.02,294.45 993.29,293.83 995.6,293.4" fill="none" stroke="#3d9eff" stroke-width="1.1" stroke-linejoin="round"/>
<polyline points="0,221.7 1.92,222.7 4.68,224.14 7.77,225.69 10.7,227 13.38,227.94 16.06,228.72 18.73,229.46 21.4,230.3 24.05,231.26 26.7,232.27 29.35,233.34 32,234.5 34.67,235.74 37.34,237.06 40.02,238.45 42.7,239.9 45.38,241.4 48.05,242.97 50.73,244.6 53.4,246.3 56.07,248.12 58.75,250.05 61.42,251.98 64.1,253.8 66.77,255.48 69.45,257.07 72.12,258.63 74.8,260.2 77.5,261.84 80.23,263.51 82.91,265.12 85.5,266.6 88.06,267.96 90.61,269.24 92.97,270.38 95,271.3 96.5,271.9 97.61,272.23 98.66,272.53 100,273 101.64,273.69 103.41,274.49 105.43,275.39 107.8,276.4 110.65,277.61 113.88,279 117.28,280.36 120.6,281.5 123.82,282.34 127.05,283 130.28,283.56 133.5,284.1 136.8,284.65 140.16,285.17 143.39,285.63 146.3,286 148.43,286.2 150.03,286.26 151.93,286.37 155,286.7 159.61,287.28 165.24,288.02 171.46,288.92 177.8,290 184.63,291.36 192.03,292.96 199.11,294.58 205,296 209.21,297.21 212.3,298.32 214.94,299.25 217.8,299.9 221,300.05 224.19,299.82 227.39,299.63 230.6,299.9 233.82,300.85 237.05,302.21 240.28,303.7 243.5,305 246.8,306.07 250.16,307.06 253.39,307.96 256.3,308.8 258.72,309.56 260.78,310.23 262.78,310.84 265,311.4 267.47,311.91 270.06,312.37 272.79,312.77 275.7,313.1 279.04,313.39 282.71,313.64 286.23,313.8 289.1,313.8 291.07,313.52 292.43,313.03 293.56,312.57 294.8,312.4 296.09,312.66 297.29,313.19 298.67,313.8 300.5,314.3 302.63,314.68 304.99,315.02 307.95,315.3 311.9,315.5 317.27,315.58 323.74,315.57 330.57,315.53 337,315.5 343.13,315.53 349.27,315.57 354.95,315.58 359.7,315.5 363.13,315.33 365.57,315.1 367.66,314.79 370,314.4 372.56,313.86 375.08,313.19 377.84,312.52 381.1,312 385.31,311.7 390.21,311.54 395,311.38 398.9,311.1 401.5,310.59 403.29,309.96 404.83,309.34 406.7,308.9 408.94,308.79 411.29,308.89 413.84,308.95 416.7,308.7 419.99,308.03 423.62,307.08 427.39,306.02 431.1,305 434.95,304 438.98,302.97 442.68,301.97 445.6,301.1 447.1,300.43 447.59,299.91 448.19,299.38 450,298.7 453.72,297.76 458.62,296.67 463.66,295.59 467.8,294.7 470.55,294.05 472.53,293.54 474.37,293.13 476.7,292.8 479.56,292.57 482.66,292.44 486.11,292.35 490,292.2 494.84,292 500.43,291.79 505.77,291.54 509.9,291.2 512.29,290.74 513.55,290.18 514.41,289.61 515.6,289.1 517.04,288.65 518.43,288.22 520.18,287.86 522.7,287.6 526.41,287.47 530.98,287.44 535.74,287.49 540,287.6 543.7,287.76 547.17,287.99 550.31,288.28 553,288.6 555.02,289.02 556.5,289.54 557.85,290.01 559.5,290.3 561.49,290.3 563.61,290.11 565.92,289.91 568.5,289.9 571.53,290.2 574.92,290.67 578.3,291.17 581.3,291.5 583.42,291.62 584.98,291.61 586.88,291.55 590,291.5 595.05,291.49 601.41,291.49 607.93,291.45 613.5,291.3 617.63,291.01 620.99,290.62 624.15,290.2 627.7,289.8 631.88,289.43 636.35,289.06 640.82,288.71 645,288.4 648.95,288.19 652.78,288.04 656.27,287.87 659.2,287.6 661.2,287.15 662.48,286.59 663.73,286.03 665.6,285.6 668.17,285.34 671.11,285.18 674.52,285.08 678.5,285 682.72,284.88 687.24,284.76 692.77,284.75 700,285 709.6,285.63 721.03,286.54 733.2,287.51 745,288.3 756.61,288.87 768.45,289.33 779.82,289.7 790,290 798.89,290.16 806.83,290.19 813.81,290.22 819.8,290.4 824.06,290.81 826.85,291.37 829.64,291.92 833.9,292.3 840.54,292.48 848.61,292.54 856.77,292.48 863.7,292.3 868.92,291.94 873.18,291.43 877,290.88 880.9,290.4 884.98,290.01 888.99,289.65 892.87,289.34 896.6,289.1 899.3,288.95 901.28,288.88 904.27,288.84 910,288.8 920.21,288.82 933.56,288.91 947.13,288.91 958,288.7 965.35,288.07 970.76,287.16 974.89,286.32 978.4,285.9 981.02,286.13 982.54,286.77 983.74,287.51 985.4,288 987.96,288.15 990.94,288.13 993.69,288.05 995.6,288" fill="none" stroke="#ff1f4b" stroke-opacity="0.85" stroke-width="1.15" stroke-linejoin="round"/>
<line x1="996" y1="288.5" x2="1016" y2="288.5" stroke="#ff9a1a" stroke-width="1.5"/>
</g>
<g clip-path="url(#cd)">
<polygon points="3.5,592.25 9.01,584.18 9.01,551.18 3.5,564.85" fill="url(#fg)" stroke="url(#fg)" stroke-width="0.4"/>
<polygon points="9.01,584.18 14.53,577.34 14.53,558.44 9.01,551.18" fill="url(#fg)" stroke="url(#fg)" stroke-width="0.4"/>
<polygon points="14.53,577.34 20.04,572.26 20.04,553.36 14.53,558.44" fill="url(#fg)" stroke="url(#fg)" stroke-width="0.4"/>
<polygon points="20.04,572.26 25.56,568.63 25.56,556.13 20.04,553.36" fill="url(#fg)" stroke="url(#fg)" stroke-width="0.4"/>
<polygon points="25.56,568.63 31.07,567.27 31.07,560.77 25.56,556.13" fill="url(#fg)" stroke="url(#fg)" stroke-width="0.4"/>
<polygon points="31.07,567.27 36.59,566.17 36.59,563.67 31.07,560.77" fill="url(#fg)" stroke="url(#fg)" stroke-width="0.4"/>
<polygon points="36.59,566.17 40.77,566.58 36.59,563.67" fill="url(#fg)" stroke="url(#fg)" stroke-width="0.5"/>
<polygon points="40.77,566.58 42.1,566.71 42.1,567.51" fill="url(#fp)" stroke="url(#fp)" stroke-width="0.4"/>
<polygon points="42.1,566.71 47.62,567.46 47.62,568.26 42.1,567.51" fill="url(#fp)" stroke="url(#fp)" stroke-width="0.4"/>
<polygon points="47.62,567.46 53.13,569.77 53.13,575.67 47.62,568.26" fill="url(#fp)" stroke="url(#fp)" stroke-width="0.4"/>
<polygon points="53.13,569.77 58.65,572.02 58.65,580.92 53.13,575.67" fill="url(#fp)" stroke="url(#fp)" stroke-width="0.4"/>
<polygon points="58.65,572.02 64.16,574.23 64.16,581.83 58.65,580.92" fill="url(#fp)" stroke="url(#fp)" stroke-width="0.4"/>
<polygon points="64.16,574.23 69.68,576.43 69.68,585.33 64.16,581.83" fill="url(#fp)" stroke="url(#fp)" stroke-width="0.4"/>
<polygon points="69.68,576.43 75.19,578.38 75.19,587.28 69.68,585.33" fill="url(#fp)" stroke="url(#fp)" stroke-width="0.4"/>
<polygon points="75.19,578.38 80.71,580.05 80.71,587.15 75.19,587.28" fill="url(#fp)" stroke="url(#fp)" stroke-width="0.4"/>
<polygon points="80.71,580.05 86.22,581.17 86.22,584.87 80.71,587.15" fill="url(#fp)" stroke="url(#fp)" stroke-width="0.4"/>
<polygon points="86.22,581.17 91.74,582.46 91.74,583.46 86.22,584.87" fill="url(#fp)" stroke="url(#fp)" stroke-width="0.4"/>
<polygon points="91.74,582.46 97.25,584.21 97.25,588.61 91.74,583.46" fill="url(#fp)" stroke="url(#fp)" stroke-width="0.4"/>
<polygon points="97.25,584.21 102.77,584.73 102.77,584.73 97.25,588.61" fill="url(#fp)" stroke="url(#fp)" stroke-width="0.4"/>
<polygon points="102.77,584.73 108.28,585.41 108.28,585.41 102.77,584.73" fill="url(#fg)" stroke="url(#fg)" stroke-width="0.4"/>
<polygon points="108.28,585.41 113.8,586.24 113.8,587.24 108.28,585.41" fill="url(#fp)" stroke="url(#fp)" stroke-width="0.4"/>
<polygon points="113.8,586.24 119.31,587.62 119.31,591.12 113.8,587.24" fill="url(#fp)" stroke="url(#fp)" stroke-width="0.4"/>
<polygon points="119.31,587.62 124.83,589.07 124.83,594.77 119.31,591.12" fill="url(#fp)" stroke="url(#fp)" stroke-width="0.4"/>
<polygon points="124.83,589.07 130.34,590.54 130.34,596.24 124.83,594.77" fill="url(#fp)" stroke="url(#fp)" stroke-width="0.4"/>
<polygon points="130.34,590.54 135.86,591.18 135.86,592.18 130.34,596.24" fill="url(#fp)" stroke="url(#fp)" stroke-width="0.4"/>
<polygon points="135.86,591.18 141.38,591.54 141.38,591.54 135.86,592.18" fill="url(#fp)" stroke="url(#fp)" stroke-width="0.4"/>
<polygon points="141.38,591.54 146.89,591.66 146.89,591.66 141.38,591.54" fill="url(#fg)" stroke="url(#fg)" stroke-width="0.4"/>
<polygon points="146.89,591.66 152.41,591.94 152.41,592.94 146.89,591.66" fill="url(#fp)" stroke="url(#fp)" stroke-width="0.4"/>
<polygon points="152.41,591.94 157.92,592.73 157.92,597.63 152.41,592.94" fill="url(#fp)" stroke="url(#fp)" stroke-width="0.4"/>
<polygon points="157.92,592.73 163.44,593.8 163.44,598.8 157.92,597.63" fill="url(#fp)" stroke="url(#fp)" stroke-width="0.4"/>
<polygon points="163.44,593.8 168.95,594.54 168.95,598.04 163.44,598.8" fill="url(#fp)" stroke="url(#fp)" stroke-width="0.4"/>
<polygon points="168.95,594.54 174.47,596.17 174.47,600.67 168.95,598.04" fill="url(#fp)" stroke="url(#fp)" stroke-width="0.4"/>
<polygon points="174.47,596.17 179.98,597.87 179.98,603.37 174.47,600.67" fill="url(#fp)" stroke="url(#fp)" stroke-width="0.4"/>
<polygon points="179.98,597.87 185.49,600.66 185.49,606.76 179.98,603.37" fill="url(#fp)" stroke="url(#fp)" stroke-width="0.4"/>
<polygon points="185.49,600.66 191.01,604.07 191.01,616.97 185.49,606.76" fill="url(#fp)" stroke="url(#fp)" stroke-width="0.4"/>
<polygon points="191.01,604.07 196.52,606.57 196.52,620.57 191.01,616.97" fill="url(#fp)" stroke="url(#fp)" stroke-width="0.4"/>
<polygon points="196.52,606.57 202.04,608.57 202.04,617.87 196.52,620.57" fill="url(#fp)" stroke="url(#fp)" stroke-width="0.4"/>
<polygon points="202.04,608.57 207.55,610.05 207.55,613.85 202.04,617.87" fill="url(#fp)" stroke="url(#fp)" stroke-width="0.4"/>
<polygon points="207.55,610.05 213.07,611.49 213.07,613.69 207.55,613.85" fill="url(#fp)" stroke="url(#fp)" stroke-width="0.4"/>
<polygon points="213.07,611.49 218.58,611.6 218.58,613 213.07,613.69" fill="url(#fp)" stroke="url(#fp)" stroke-width="0.4"/>
<polygon points="218.58,611.6 219.99,611.41 218.58,613" fill="url(#fp)" stroke="url(#fp)" stroke-width="0.5"/>
<polygon points="219.99,611.41 224.1,610.84 224.1,606.74" fill="url(#fg)" stroke="url(#fg)" stroke-width="0.4"/>
<polygon points="224.1,610.84 229.61,607.36 229.61,594.16 224.1,606.74" fill="url(#fg)" stroke="url(#fg)" stroke-width="0.4"/>
<polygon points="229.61,607.36 235.13,604.04 235.13,589.74 229.61,594.16" fill="url(#fg)" stroke="url(#fg)" stroke-width="0.4"/>
<polygon points="235.13,604.04 240.64,600.88 240.64,587.68 235.13,589.74" fill="url(#fg)" stroke="url(#fg)" stroke-width="0.4"/>
<polygon points="240.64,600.88 246.16,598.12 246.16,586.92 240.64,587.68" fill="url(#fg)" stroke="url(#fg)" stroke-width="0.4"/>
<polygon points="246.16,598.12 251.67,595.76 251.67,587.26 246.16,586.92" fill="url(#fg)" stroke="url(#fg)" stroke-width="0.4"/>
<polygon points="251.67,595.76 257.19,593.75 257.19,585.25 251.67,587.26" fill="url(#fg)" stroke="url(#fg)" stroke-width="0.4"/>
<polygon points="257.19,593.75 262.7,591.96 262.7,585.46 257.19,585.25" fill="url(#fg)" stroke="url(#fg)" stroke-width="0.4"/>
<polygon points="262.7,591.96 268.22,588.74 268.22,581.14 262.7,585.46" fill="url(#fg)" stroke="url(#fg)" stroke-width="0.4"/>
<polygon points="268.22,588.74 273.73,585.58 273.73,573.28 268.22,581.14" fill="url(#fg)" stroke="url(#fg)" stroke-width="0.4"/>
<polygon points="273.73,585.58 279.25,582.35 279.25,565.95 273.73,573.28" fill="url(#fg)" stroke="url(#fg)" stroke-width="0.4"/>
<polygon points="279.25,582.35 284.76,576.84 284.76,553.04 279.25,565.95" fill="url(#fg)" stroke="url(#fg)" stroke-width="0.4"/>
<polygon points="284.76,576.84 290.28,571.28 290.28,549.08 284.76,553.04" fill="url(#fg)" stroke="url(#fg)" stroke-width="0.4"/>
<polygon points="290.28,571.28 295.79,565.71 295.79,543.41 290.28,549.08" fill="url(#fg)" stroke="url(#fg)" stroke-width="0.4"/>
<polygon points="295.79,565.71 301.31,560.19 301.31,539.89 295.79,543.41" fill="url(#fg)" stroke="url(#fg)" stroke-width="0.4"/>
<polygon points="301.31,560.19 306.82,556.96 306.82,542.56 301.31,539.89" fill="url(#fg)" stroke="url(#fg)" stroke-width="0.4"/>
<polygon points="306.82,556.96 312.34,555.84 312.34,548.34 306.82,542.56" fill="url(#fg)" stroke="url(#fg)" stroke-width="0.4"/>
<polygon points="312.34,555.84 317.85,555.4 317.85,552.3 312.34,548.34" fill="url(#fg)" stroke="url(#fg)" stroke-width="0.4"/>
<polygon points="317.85,555.4 323.37,555.4 323.37,555.4 317.85,552.3" fill="url(#fg)" stroke="url(#fg)" stroke-width="0.4"/>
<polygon points="323.37,555.4 328.88,555.32 328.88,553.52 323.37,555.4" fill="url(#fg)" stroke="url(#fg)" stroke-width="0.4"/>
<polygon points="328.88,555.32 334.4,555.15 334.4,553.35 328.88,553.52" fill="url(#fg)" stroke="url(#fg)" stroke-width="0.4"/>
<polygon points="334.4,555.15 339.91,554.72 339.91,552.92 334.4,553.35" fill="url(#fg)" stroke="url(#fg)" stroke-width="0.4"/>
<polygon points="339.91,554.72 345.43,553.81 345.43,552.01 339.91,552.92" fill="url(#fg)" stroke="url(#fg)" stroke-width="0.4"/>
<polygon points="345.43,553.81 350.16,554.87 345.43,552.01" fill="url(#fg)" stroke="url(#fg)" stroke-width="0.5"/>
<polygon points="350.16,554.87 350.94,555.04 350.94,555.34" fill="url(#fp)" stroke="url(#fp)" stroke-width="0.4"/>
<polygon points="350.94,555.04 356.46,555.32 356.46,557.72 350.94,555.34" fill="url(#fp)" stroke="url(#fp)" stroke-width="0.4"/>
<polygon points="356.46,555.32 361.97,554.45 361.97,554.75 356.46,557.72" fill="url(#fp)" stroke="url(#fp)" stroke-width="0.4"/>
<polygon points="361.97,554.45 362.33,554.35 361.97,554.75" fill="url(#fp)" stroke="url(#fp)" stroke-width="0.5"/>
<polygon points="362.33,554.35 367.49,552.81 367.49,548.51" fill="url(#fg)" stroke="url(#fg)" stroke-width="0.4"/>
<polygon points="367.49,552.81 373,550.94 373,542.34 367.49,548.51" fill="url(#fg)" stroke="url(#fg)" stroke-width="0.4"/>
<polygon points="373,550.94 378.52,547.91 378.52,536.91 373,542.34" fill="url(#fg)" stroke="url(#fg)" stroke-width="0.4"/>
<polygon points="378.52,547.91 384.03,544.76 384.03,530.36 378.52,536.91" fill="url(#fg)" stroke="url(#fg)" stroke-width="0.4"/>
<polygon points="384.03,544.76 389.55,541.82 389.55,526.42 384.03,530.36" fill="url(#fg)" stroke="url(#fg)" stroke-width="0.4"/>
<polygon points="389.55,541.82 395.06,539.69 395.06,528.69 389.55,526.42" fill="url(#fg)" stroke="url(#fg)" stroke-width="0.4"/>
<polygon points="395.06,539.69 400.58,538.55 400.58,532.05 395.06,528.69" fill="url(#fg)" stroke="url(#fg)" stroke-width="0.4"/>
<polygon points="400.58,538.55 406.09,537.75 406.09,534.65 400.58,532.05" fill="url(#fg)" stroke="url(#fg)" stroke-width="0.4"/>
<polygon points="406.09,537.75 409.98,538.41 406.09,534.65" fill="url(#fg)" stroke="url(#fg)" stroke-width="0.5"/>
<polygon points="409.98,538.41 411.61,538.68 411.61,539.98" fill="url(#fp)" stroke="url(#fp)" stroke-width="0.4"/>
<polygon points="411.61,538.68 417.12,540.35 417.12,543.85 411.61,539.98" fill="url(#fp)" stroke="url(#fp)" stroke-width="0.4"/>
<polygon points="417.12,540.35 422.64,542.95 422.64,551.25 417.12,543.85" fill="url(#fp)" stroke="url(#fp)" stroke-width="0.4"/>
<polygon points="422.64,542.95 428.15,545.32 428.15,554.52 422.64,551.25" fill="url(#fp)" stroke="url(#fp)" stroke-width="0.4"/>
<polygon points="428.15,545.32 433.67,547.37 433.67,555.67 428.15,554.52" fill="url(#fp)" stroke="url(#fp)" stroke-width="0.4"/>
<polygon points="433.67,547.37 439.19,549.1 439.19,556.3 433.67,555.67" fill="url(#fp)" stroke="url(#fp)" stroke-width="0.4"/>
<polygon points="439.19,549.1 444.7,549.1 444.7,550.4 439.19,556.3" fill="url(#fp)" stroke="url(#fp)" stroke-width="0.4"/>
<polygon points="444.7,549.1 447.26,549.05 444.7,550.4" fill="url(#fp)" stroke="url(#fp)" stroke-width="0.5"/>
<polygon points="447.26,549.05 450.21,548.98 450.21,547.48" fill="url(#fg)" stroke="url(#fg)" stroke-width="0.4"/>
<polygon points="450.21,548.98 455.73,548.3 455.73,545.2 450.21,547.48" fill="url(#fg)" stroke="url(#fg)" stroke-width="0.4"/>
<polygon points="455.73,548.3 461.24,548.48 461.24,545.78 455.73,545.2" fill="url(#fg)" stroke="url(#fg)" stroke-width="0.4"/>
<polygon points="461.24,548.48 466.76,548.66 466.76,548.66 461.24,545.78" fill="url(#fg)" stroke="url(#fg)" stroke-width="0.4"/>
<polygon points="466.76,548.66 472.27,550.27 472.27,553.77 466.76,548.66" fill="url(#fp)" stroke="url(#fp)" stroke-width="0.4"/>
<polygon points="472.27,550.27 477.79,552.28 477.79,558.38 472.27,553.77" fill="url(#fp)" stroke="url(#fp)" stroke-width="0.4"/>
<polygon points="477.79,552.28 483.3,554.34 483.3,562.64 477.79,558.38" fill="url(#fp)" stroke="url(#fp)" stroke-width="0.4"/>
<polygon points="483.3,554.34 488.82,556.57 488.82,566.87 483.3,562.64" fill="url(#fp)" stroke="url(#fp)" stroke-width="0.4"/>
<polygon points="488.82,556.57 494.33,560.5 494.33,572.4 488.82,566.87" fill="url(#fp)" stroke="url(#fp)" stroke-width="0.4"/>
<polygon points="494.33,560.5 499.85,564.42 499.85,579.42 494.33,572.4" fill="url(#fp)" stroke="url(#fp)" stroke-width="0.4"/>
<polygon points="499.85,564.42 505.36,568.31 505.36,584.41 499.85,579.42" fill="url(#fp)" stroke="url(#fp)" stroke-width="0.4"/>
<polygon points="505.36,568.31 510.88,572.04 510.88,588.14 505.36,584.41" fill="url(#fp)" stroke="url(#fp)" stroke-width="0.4"/>
<polygon points="510.88,572.04 516.39,575.7 516.39,589.6 510.88,588.14" fill="url(#fp)" stroke="url(#fp)" stroke-width="0.4"/>
<polygon points="516.39,575.7 521.91,578.13 521.91,590.03 516.39,589.6" fill="url(#fp)" stroke="url(#fp)" stroke-width="0.4"/>
<polygon points="521.91,578.13 527.42,581.96 527.42,594.66 521.91,590.03" fill="url(#fp)" stroke="url(#fp)" stroke-width="0.4"/>
<polygon points="527.42,581.96 532.94,586.46 532.94,602.56 527.42,594.66" fill="url(#fp)" stroke="url(#fp)" stroke-width="0.4"/>
<polygon points="532.94,586.46 538.45,591.48 538.45,608.58 532.94,602.56" fill="url(#fp)" stroke="url(#fp)" stroke-width="0.4"/>
<polygon points="538.45,591.48 543.97,596.47 543.97,613.57 538.45,608.58" fill="url(#fp)" stroke="url(#fp)" stroke-width="0.4"/>
<polygon points="543.97,596.47 549.49,601.13 549.49,617.73 543.97,613.57" fill="url(#fp)" stroke="url(#fp)" stroke-width="0.4"/>
<polygon points="549.49,601.13 555,604.69 555,619.69 549.49,617.73" fill="url(#fp)" stroke="url(#fp)" stroke-width="0.4"/>
<polygon points="555,604.69 560.51,607.72 560.51,619.12 555,619.69" fill="url(#fp)" stroke="url(#fp)" stroke-width="0.4"/>
<polygon points="560.51,607.72 566.03,609.08 566.03,617.38 560.51,619.12" fill="url(#fp)" stroke="url(#fp)" stroke-width="0.4"/>
<polygon points="566.03,609.08 571.54,610.66 571.54,617.86 566.03,617.38" fill="url(#fp)" stroke="url(#fp)" stroke-width="0.4"/>
<polygon points="571.54,610.66 577.06,612.93 577.06,621.23 571.54,617.86" fill="url(#fp)" stroke="url(#fp)" stroke-width="0.4"/>
<polygon points="577.06,612.93 582.57,615.21 582.57,623.51 577.06,621.23" fill="url(#fp)" stroke="url(#fp)" stroke-width="0.4"/>
<polygon points="582.57,615.21 588.09,616.87 588.09,624.07 582.57,623.51" fill="url(#fp)" stroke="url(#fp)" stroke-width="0.4"/>
<polygon points="588.09,616.87 593.61,618.51 593.61,624.61 588.09,624.07" fill="url(#fp)" stroke="url(#fp)" stroke-width="0.4"/>
<polygon points="593.61,618.51 599.12,619.95 599.12,622.35 593.61,624.61" fill="url(#fp)" stroke="url(#fp)" stroke-width="0.4"/>
<polygon points="599.12,619.95 604.63,619.38 604.63,619.48 599.12,622.35" fill="url(#fp)" stroke="url(#fp)" stroke-width="0.4"/>
<polygon points="604.63,619.38 604.83,619.37 604.63,619.48" fill="url(#fp)" stroke="url(#fp)" stroke-width="0.5"/>
<polygon points="604.83,619.37 610.15,618.82 610.15,616.02" fill="url(#fg)" stroke="url(#fg)" stroke-width="0.4"/>
<polygon points="610.15,618.82 615.66,617.8 615.66,613.5 610.15,616.02" fill="url(#fg)" stroke="url(#fg)" stroke-width="0.4"/>
<polygon points="615.66,617.8 621.18,615.36 621.18,607.86 615.66,613.5" fill="url(#fg)" stroke="url(#fg)" stroke-width="0.4"/>
<polygon points="621.18,615.36 626.69,612.52 626.69,602.72 621.18,607.86" fill="url(#fg)" stroke="url(#fg)" stroke-width="0.4"/>
<polygon points="626.69,612.52 632.21,609.55 632.21,596.25 626.69,602.72" fill="url(#fg)" stroke="url(#fg)" stroke-width="0.4"/>
<polygon points="632.21,609.55 637.72,606.3 637.72,589.8 632.21,596.25" fill="url(#fg)" stroke="url(#fg)" stroke-width="0.4"/>
<polygon points="637.72,606.3 643.24,602.64 643.24,587.24 637.72,589.8" fill="url(#fg)" stroke="url(#fg)" stroke-width="0.4"/>
<polygon points="643.24,602.64 648.75,598.12 648.75,581.62 643.24,587.24" fill="url(#fg)" stroke="url(#fg)" stroke-width="0.4"/>
<polygon points="648.75,598.12 654.27,593.58 654.27,577.08 648.75,581.62" fill="url(#fg)" stroke="url(#fg)" stroke-width="0.4"/>
<polygon points="654.27,593.58 659.78,589.45 659.78,572.95 654.27,577.08" fill="url(#fg)" stroke="url(#fg)" stroke-width="0.4"/>
<polygon points="659.78,589.45 665.3,585.33 665.3,567.33 659.78,572.95" fill="url(#fg)" stroke="url(#fg)" stroke-width="0.4"/>
<polygon points="665.3,585.33 670.81,581.25 670.81,564.75 665.3,567.33" fill="url(#fg)" stroke="url(#fg)" stroke-width="0.4"/>
<polygon points="670.81,581.25 676.33,578.89 676.33,568.99 670.81,564.75" fill="url(#fg)" stroke="url(#fg)" stroke-width="0.4"/>
<polygon points="676.33,578.89 681.84,578.6 681.84,573.2 676.33,568.99" fill="url(#fg)" stroke="url(#fg)" stroke-width="0.4"/>
<polygon points="681.84,578.6 687.36,579.17 687.36,579.17 681.84,573.2" fill="url(#fg)" stroke="url(#fg)" stroke-width="0.4"/>
<polygon points="687.36,579.17 692.88,582.45 692.88,591.45 687.36,579.17" fill="url(#fp)" stroke="url(#fp)" stroke-width="0.4"/>
<polygon points="692.88,582.45 698.39,588.58 698.39,608.68 692.88,591.45" fill="url(#fp)" stroke="url(#fp)" stroke-width="0.4"/>
<polygon points="698.39,588.58 703.9,596.25 703.9,627.65 698.39,608.68" fill="url(#fp)" stroke="url(#fp)" stroke-width="0.4"/>
<polygon points="703.9,596.25 709.42,605.16 709.42,640.16 703.9,627.65" fill="url(#fp)" stroke="url(#fp)" stroke-width="0.4"/>
<polygon points="709.42,605.16 714.93,613.48 714.93,650.58 709.42,640.16" fill="url(#fp)" stroke="url(#fp)" stroke-width="0.4"/>
<polygon points="714.93,613.48 720.45,620.96 720.45,651.26 714.93,650.58" fill="url(#fp)" stroke="url(#fp)" stroke-width="0.4"/>
<polygon points="720.45,620.96 725.96,624.8 725.96,643.6 720.45,651.26" fill="url(#fp)" stroke="url(#fp)" stroke-width="0.4"/>
<polygon points="725.96,624.8 731.48,627.54 731.48,639.44 725.96,643.6" fill="url(#fp)" stroke="url(#fp)" stroke-width="0.4"/>
<polygon points="731.48,627.54 737,629.79 737,634.89 731.48,639.44" fill="url(#fp)" stroke="url(#fp)" stroke-width="0.4"/>
<polygon points="737,629.79 741.13,629.68 737,634.89" fill="url(#fp)" stroke="url(#fp)" stroke-width="0.5"/>
<polygon points="741.13,629.68 742.51,629.64 742.51,627.94" fill="url(#fg)" stroke="url(#fg)" stroke-width="0.4"/>
<polygon points="742.51,629.64 748.02,629.48 748.02,625.58 742.51,627.94" fill="url(#fg)" stroke="url(#fg)" stroke-width="0.4"/>
<polygon points="748.02,629.48 753.54,629.59 753.54,629.59 748.02,625.58" fill="url(#fg)" stroke="url(#fg)" stroke-width="0.4"/>
<polygon points="753.54,629.59 759.05,630 759.05,632.4 753.54,629.59" fill="url(#fp)" stroke="url(#fp)" stroke-width="0.4"/>
<polygon points="759.05,630 764.57,630.63 764.57,633.03 759.05,632.4" fill="url(#fp)" stroke="url(#fp)" stroke-width="0.4"/>
<polygon points="764.57,630.63 770.08,631.29 770.08,632.49 764.57,633.03" fill="url(#fp)" stroke="url(#fp)" stroke-width="0.4"/>
<polygon points="770.08,631.29 775.6,631.14 775.6,632.34 770.08,632.49" fill="url(#fp)" stroke="url(#fp)" stroke-width="0.4"/>
<polygon points="775.6,631.14 781.12,630.92 781.12,631.02 775.6,632.34" fill="url(#fp)" stroke="url(#fp)" stroke-width="0.4"/>
<polygon points="781.12,630.92 781.31,630.86 781.12,631.02" fill="url(#fp)" stroke="url(#fp)" stroke-width="0.5"/>
<polygon points="781.31,630.86 786.63,628.97 786.63,626.17" fill="url(#fg)" stroke="url(#fg)" stroke-width="0.4"/>
<polygon points="786.63,628.97 792.14,626.47 792.14,616.67 786.63,626.17" fill="url(#fg)" stroke="url(#fg)" stroke-width="0.4"/>
<polygon points="792.14,626.47 797.66,622.97 797.66,607.27 792.14,616.67" fill="url(#fg)" stroke="url(#fg)" stroke-width="0.4"/>
<polygon points="797.66,622.97 803.17,618.77 803.17,600.67 797.66,607.27" fill="url(#fg)" stroke="url(#fg)" stroke-width="0.4"/>
<polygon points="803.17,618.77 808.69,614.56 808.69,596.46 803.17,600.67" fill="url(#fg)" stroke="url(#fg)" stroke-width="0.4"/>
<polygon points="808.69,614.56 814.2,610.78 814.2,592.68 808.69,596.46" fill="url(#fg)" stroke="url(#fg)" stroke-width="0.4"/>
<polygon points="814.2,610.78 819.72,607.01 819.72,590.21 814.2,592.68" fill="url(#fg)" stroke="url(#fg)" stroke-width="0.4"/>
<polygon points="819.72,607.01 825.23,603.12 825.23,587.42 819.72,590.21" fill="url(#fg)" stroke="url(#fg)" stroke-width="0.4"/>
<polygon points="825.23,603.12 830.75,599.16 830.75,585.76 825.23,587.42" fill="url(#fg)" stroke="url(#fg)" stroke-width="0.4"/>
<polygon points="830.75,599.16 836.26,594.77 836.26,577.97 830.75,585.76" fill="url(#fg)" stroke="url(#fg)" stroke-width="0.4"/>
<polygon points="836.26,594.77 841.78,590.18 841.78,566.58 836.26,577.97" fill="url(#fg)" stroke="url(#fg)" stroke-width="0.4"/>
<polygon points="841.78,590.18 847.29,583.93 847.29,559.53 841.78,566.58" fill="url(#fg)" stroke="url(#fg)" stroke-width="0.4"/>
<polygon points="847.29,583.93 852.81,577.62 852.81,549.32 847.29,559.53" fill="url(#fg)" stroke="url(#fg)" stroke-width="0.4"/>
<polygon points="852.81,577.62 858.32,569.87 858.32,542.37 852.81,549.32" fill="url(#fg)" stroke="url(#fg)" stroke-width="0.4"/>
<polygon points="858.32,569.87 863.84,562.97 863.84,536.97 858.32,542.37" fill="url(#fg)" stroke="url(#fg)" stroke-width="0.4"/>
<polygon points="863.84,562.97 869.35,558.65 869.35,538.25 863.84,536.97" fill="url(#fg)" stroke="url(#fg)" stroke-width="0.4"/>
<polygon points="869.35,558.65 874.87,553.73 874.87,534.43 869.35,538.25" fill="url(#fg)" stroke="url(#fg)" stroke-width="0.4"/>
<polygon points="874.87,553.73 880.38,547.01 880.38,525.51 874.87,534.43" fill="url(#fg)" stroke="url(#fg)" stroke-width="0.4"/>
<polygon points="880.38,547.01 885.9,540.7 885.9,514.7 880.38,525.51" fill="url(#fg)" stroke="url(#fg)" stroke-width="0.4"/>
<polygon points="885.9,540.7 891.41,535.6 891.41,513.1 885.9,514.7" fill="url(#fg)" stroke="url(#fg)" stroke-width="0.4"/>
<polygon points="891.41,535.6 896.93,531.71 896.93,514.91 891.41,513.1" fill="url(#fg)" stroke="url(#fg)" stroke-width="0.4"/>
<polygon points="896.93,531.71 902.44,528.8 902.44,512 896.93,514.91" fill="url(#fg)" stroke="url(#fg)" stroke-width="0.4"/>
<polygon points="902.44,528.8 907.96,526.97 907.96,518.37 902.44,512" fill="url(#fg)" stroke="url(#fg)" stroke-width="0.4"/>
<polygon points="907.96,526.97 913.47,526.14 913.47,520.64 907.96,518.37" fill="url(#fg)" stroke="url(#fg)" stroke-width="0.4"/>
<polygon points="913.47,526.14 917.47,526.78 913.47,520.64" fill="url(#fg)" stroke="url(#fg)" stroke-width="0.5"/>
<polygon points="917.47,526.78 918.99,527.03 918.99,529.13" fill="url(#fp)" stroke="url(#fp)" stroke-width="0.4"/>
<polygon points="918.99,527.03 924.5,528.38 924.5,531.58 918.99,529.13" fill="url(#fp)" stroke="url(#fp)" stroke-width="0.4"/>
<polygon points="924.5,528.38 930.02,529.52 930.02,532.82 924.5,531.58" fill="url(#fp)" stroke="url(#fp)" stroke-width="0.4"/>
<polygon points="930.02,529.52 935.53,530.45 935.53,531.65 930.02,532.82" fill="url(#fp)" stroke="url(#fp)" stroke-width="0.4"/>
<polygon points="935.53,530.45 941.05,530.03 941.05,530.03 935.53,531.65" fill="url(#fp)" stroke="url(#fp)" stroke-width="0.4"/>
<polygon points="941.05,530.03 946.56,529.27 946.56,524.27 941.05,530.03" fill="url(#fg)" stroke="url(#fg)" stroke-width="0.4"/>
<polygon points="946.56,529.27 952.08,528.86 952.08,526.16 946.56,524.27" fill="url(#fg)" stroke="url(#fg)" stroke-width="0.4"/>
<polygon points="952.08,528.86 955.9,529.54 952.08,526.16" fill="url(#fg)" stroke="url(#fg)" stroke-width="0.5"/>
<polygon points="955.9,529.54 957.59,529.85 957.59,531.05" fill="url(#fp)" stroke="url(#fp)" stroke-width="0.4"/>
<polygon points="957.59,529.85 963.11,530.17 963.11,532.67 957.59,531.05" fill="url(#fp)" stroke="url(#fp)" stroke-width="0.4"/>
<polygon points="963.11,530.17 968.62,530.6 968.62,533.1 963.11,532.67" fill="url(#fp)" stroke="url(#fp)" stroke-width="0.4"/>
<polygon points="968.62,530.6 974.14,531.78 974.14,535.58 968.62,533.1" fill="url(#fp)" stroke="url(#fp)" stroke-width="0.4"/>
<polygon points="974.14,531.78 979.65,533.97 979.65,540.57 974.14,535.58" fill="url(#fp)" stroke="url(#fp)" stroke-width="0.4"/>
<polygon points="979.65,533.97 985.17,537.92 985.17,551.02 979.65,540.57" fill="url(#fp)" stroke="url(#fp)" stroke-width="0.4"/>
<polygon points="985.17,537.92 990.68,542.69 990.68,561.59 985.17,551.02" fill="url(#fp)" stroke="url(#fp)" stroke-width="0.4"/>
<polygon points="990.68,542.69 996.2,547.6 996.2,571.1 990.68,561.59" fill="url(#fp)" stroke="url(#fp)" stroke-width="0.4"/>
<rect x="2.2" y="557.1" width="2.6" height="27.4" fill="url(#gu)"/>
<rect x="7.71" y="551.5" width="2.6" height="33" fill="url(#gu)"/>
<rect x="13.23" y="565.6" width="2.6" height="18.9" fill="url(#gu)"/>
<rect x="18.74" y="565.6" width="2.6" height="18.9" fill="url(#gu)"/>
<rect x="24.26" y="572" width="2.6" height="12.5" fill="url(#gu)"/>
<rect x="29.77" y="578" width="2.6" height="6.5" fill="url(#gu)"/>
<rect x="35.29" y="582" width="2.6" height="2.5" fill="url(#gu)"/>
<rect x="40.8" y="584.5" width="2.6" height="0.8" fill="url(#gd)"/>
<rect x="46.32" y="584.5" width="2.6" height="0.8" fill="url(#gd)"/>
<rect x="51.84" y="584.5" width="2.6" height="5.9" fill="url(#gd)"/>
<rect x="57.35" y="584.5" width="2.6" height="8.9" fill="url(#gd)"/>
<rect x="62.86" y="584.5" width="2.6" height="7.6" fill="url(#gd)"/>
<rect x="68.38" y="584.5" width="2.6" height="8.9" fill="url(#gd)"/>
<rect x="73.89" y="584.5" width="2.6" height="8.9" fill="url(#gd)"/>
<rect x="79.41" y="584.5" width="2.6" height="7.1" fill="url(#gd)"/>
<rect x="84.92" y="584.5" width="2.6" height="3.7" fill="url(#gd)"/>
<rect x="90.44" y="584.5" width="2.6" height="1" fill="url(#gd)"/>
<rect x="95.95" y="584.5" width="2.6" height="4.4" fill="url(#gd)"/>
<rect x="112.5" y="584.5" width="2.6" height="1" fill="url(#gd)"/>
<rect x="118.02" y="584.5" width="2.6" height="3.5" fill="url(#gd)"/>
<rect x="123.53" y="584.5" width="2.6" height="5.7" fill="url(#gd)"/>
<rect x="129.04" y="584.5" width="2.6" height="5.7" fill="url(#gd)"/>
<rect x="134.56" y="584.5" width="2.6" height="1" fill="url(#gd)"/>
<rect x="151.1" y="584.5" width="2.6" height="1" fill="url(#gd)"/>
<rect x="156.62" y="584.5" width="2.6" height="4.9" fill="url(#gd)"/>
<rect x="162.13" y="584.5" width="2.6" height="5" fill="url(#gd)"/>
<rect x="167.65" y="584.5" width="2.6" height="3.5" fill="url(#gd)"/>
<rect x="173.16" y="584.5" width="2.6" height="4.5" fill="url(#gd)"/>
<rect x="178.68" y="584.5" width="2.6" height="5.5" fill="url(#gd)"/>
<rect x="184.19" y="584.5" width="2.6" height="6.1" fill="url(#gd)"/>
<rect x="189.71" y="584.5" width="2.6" height="12.9" fill="url(#gd)"/>
<rect x="195.22" y="584.5" width="2.6" height="14" fill="url(#gd)"/>
<rect x="200.74" y="584.5" width="2.6" height="9.3" fill="url(#gd)"/>
<rect x="206.25" y="584.5" width="2.6" height="3.8" fill="url(#gd)"/>
<rect x="211.77" y="584.5" width="2.6" height="2.2" fill="url(#gd)"/>
<rect x="217.28" y="584.5" width="2.6" height="1.4" fill="url(#gd)"/>
<rect x="222.8" y="580.4" width="2.6" height="4.1" fill="url(#gu)"/>
<rect x="228.31" y="571.3" width="2.6" height="13.2" fill="url(#gu)"/>
<rect x="233.83" y="570.2" width="2.6" height="14.3" fill="url(#gu)"/>
<rect x="239.34" y="571.3" width="2.6" height="13.2" fill="url(#gu)"/>
<rect x="244.86" y="573.3" width="2.6" height="11.2" fill="url(#gu)"/>
<rect x="250.37" y="576" width="2.6" height="8.5" fill="url(#gu)"/>
<rect x="255.89" y="576" width="2.6" height="8.5" fill="url(#gu)"/>
<rect x="261.4" y="578" width="2.6" height="6.5" fill="url(#gu)"/>
<rect x="266.92" y="576.9" width="2.6" height="7.6" fill="url(#gu)"/>
<rect x="272.43" y="572.2" width="2.6" height="12.3" fill="url(#gu)"/>
<rect x="277.95" y="568.1" width="2.6" height="16.4" fill="url(#gu)"/>
<rect x="283.46" y="560.7" width="2.6" height="23.8" fill="url(#gu)"/>
<rect x="288.98" y="562.3" width="2.6" height="22.2" fill="url(#gu)"/>
<rect x="294.49" y="562.2" width="2.6" height="22.3" fill="url(#gu)"/>
<rect x="300.01" y="564.2" width="2.6" height="20.3" fill="url(#gu)"/>
<rect x="305.52" y="570.1" width="2.6" height="14.4" fill="url(#gu)"/>
<rect x="311.04" y="577" width="2.6" height="7.5" fill="url(#gu)"/>
<rect x="316.55" y="581.4" width="2.6" height="3.1" fill="url(#gu)"/>
<rect x="327.58" y="582.7" width="2.6" height="1.8" fill="url(#gu)"/>
<rect x="333.1" y="582.7" width="2.6" height="1.8" fill="url(#gu)"/>
<rect x="338.61" y="582.7" width="2.6" height="1.8" fill="url(#gu)"/>
<rect x="344.13" y="582.7" width="2.6" height="1.8" fill="url(#gu)"/>
<rect x="355.16" y="584.5" width="2.6" height="2.4" fill="url(#gd)"/>
<rect x="366.19" y="580.2" width="2.6" height="4.3" fill="url(#gu)"/>
<rect x="371.7" y="575.9" width="2.6" height="8.6" fill="url(#gu)"/>
<rect x="377.22" y="573.5" width="2.6" height="11" fill="url(#gu)"/>
<rect x="382.73" y="570.1" width="2.6" height="14.4" fill="url(#gu)"/>
<rect x="388.25" y="569.1" width="2.6" height="15.4" fill="url(#gu)"/>
<rect x="393.76" y="573.5" width="2.6" height="11" fill="url(#gu)"/>
<rect x="399.28" y="578" width="2.6" height="6.5" fill="url(#gu)"/>
<rect x="404.79" y="581.4" width="2.6" height="3.1" fill="url(#gu)"/>
<rect x="410.31" y="584.5" width="2.6" height="1.3" fill="url(#gd)"/>
<rect x="415.82" y="584.5" width="2.6" height="3.5" fill="url(#gd)"/>
<rect x="421.34" y="584.5" width="2.6" height="8.3" fill="url(#gd)"/>
<rect x="426.85" y="584.5" width="2.6" height="9.2" fill="url(#gd)"/>
<rect x="432.37" y="584.5" width="2.6" height="8.3" fill="url(#gd)"/>
<rect x="437.88" y="584.5" width="2.6" height="7.2" fill="url(#gd)"/>
<rect x="443.4" y="584.5" width="2.6" height="1.3" fill="url(#gd)"/>
<rect x="448.91" y="583" width="2.6" height="1.5" fill="url(#gu)"/>
<rect x="454.43" y="581.4" width="2.6" height="3.1" fill="url(#gu)"/>
<rect x="459.94" y="581.8" width="2.6" height="2.7" fill="url(#gu)"/>
<rect x="470.97" y="584.5" width="2.6" height="3.5" fill="url(#gd)"/>
<rect x="476.49" y="584.5" width="2.6" height="6.1" fill="url(#gd)"/>
<rect x="482" y="584.5" width="2.6" height="8.3" fill="url(#gd)"/>
<rect x="487.52" y="584.5" width="2.6" height="10.3" fill="url(#gd)"/>
<rect x="493.03" y="584.5" width="2.6" height="11.9" fill="url(#gd)"/>
<rect x="498.55" y="584.5" width="2.6" height="15" fill="url(#gd)"/>
<rect x="504.06" y="584.5" width="2.6" height="16.1" fill="url(#gd)"/>
<rect x="509.58" y="584.5" width="2.6" height="16.1" fill="url(#gd)"/>
<rect x="515.1" y="584.5" width="2.6" height="13.9" fill="url(#gd)"/>
<rect x="520.61" y="584.5" width="2.6" height="11.9" fill="url(#gd)"/>
<rect x="526.12" y="584.5" width="2.6" height="12.7" fill="url(#gd)"/>
<rect x="531.64" y="584.5" width="2.6" height="16.1" fill="url(#gd)"/>
<rect x="537.15" y="584.5" width="2.6" height="17.1" fill="url(#gd)"/>
<rect x="542.67" y="584.5" width="2.6" height="17.1" fill="url(#gd)"/>
<rect x="548.19" y="584.5" width="2.6" height="16.6" fill="url(#gd)"/>
<rect x="553.7" y="584.5" width="2.6" height="15" fill="url(#gd)"/>
<rect x="559.22" y="584.5" width="2.6" height="11.4" fill="url(#gd)"/>
<rect x="564.73" y="584.5" width="2.6" height="8.3" fill="url(#gd)"/>
<rect x="570.25" y="584.5" width="2.6" height="7.2" fill="url(#gd)"/>
<rect x="575.76" y="584.5" width="2.6" height="8.3" fill="url(#gd)"/>
<rect x="581.27" y="584.5" width="2.6" height="8.3" fill="url(#gd)"/>
<rect x="586.79" y="584.5" width="2.6" height="7.2" fill="url(#gd)"/>
<rect x="592.31" y="584.5" width="2.6" height="6.1" fill="url(#gd)"/>
<rect x="597.82" y="584.5" width="2.6" height="2.4" fill="url(#gd)"/>
<rect x="608.85" y="581.7" width="2.6" height="2.8" fill="url(#gu)"/>
<rect x="614.37" y="580.2" width="2.6" height="4.3" fill="url(#gu)"/>
<rect x="619.88" y="577" width="2.6" height="7.5" fill="url(#gu)"/>
<rect x="625.39" y="574.7" width="2.6" height="9.8" fill="url(#gu)"/>
<rect x="630.91" y="571.2" width="2.6" height="13.3" fill="url(#gu)"/>
<rect x="636.42" y="568" width="2.6" height="16.5" fill="url(#gu)"/>
<rect x="641.94" y="569.1" width="2.6" height="15.4" fill="url(#gu)"/>
<rect x="647.46" y="568" width="2.6" height="16.5" fill="url(#gu)"/>
<rect x="652.97" y="568" width="2.6" height="16.5" fill="url(#gu)"/>
<rect x="658.49" y="568" width="2.6" height="16.5" fill="url(#gu)"/>
<rect x="664" y="566.5" width="2.6" height="18" fill="url(#gu)"/>
<rect x="669.51" y="568" width="2.6" height="16.5" fill="url(#gu)"/>
<rect x="675.03" y="574.6" width="2.6" height="9.9" fill="url(#gu)"/>
<rect x="680.54" y="579.1" width="2.6" height="5.4" fill="url(#gu)"/>
<rect x="691.58" y="584.5" width="2.6" height="9" fill="url(#gd)"/>
<rect x="697.09" y="584.5" width="2.6" height="20.1" fill="url(#gd)"/>
<rect x="702.61" y="584.5" width="2.6" height="31.4" fill="url(#gd)"/>
<rect x="708.12" y="584.5" width="2.6" height="35" fill="url(#gd)"/>
<rect x="713.63" y="584.5" width="2.6" height="37.1" fill="url(#gd)"/>
<rect x="719.15" y="584.5" width="2.6" height="30.3" fill="url(#gd)"/>
<rect x="724.66" y="584.5" width="2.6" height="18.8" fill="url(#gd)"/>
<rect x="730.18" y="584.5" width="2.6" height="11.9" fill="url(#gd)"/>
<rect x="735.7" y="584.5" width="2.6" height="5.1" fill="url(#gd)"/>
<rect x="741.21" y="582.8" width="2.6" height="1.7" fill="url(#gu)"/>
<rect x="746.73" y="580.6" width="2.6" height="3.9" fill="url(#gu)"/>
<rect x="757.75" y="584.5" width="2.6" height="2.4" fill="url(#gd)"/>
<rect x="763.27" y="584.5" width="2.6" height="2.4" fill="url(#gd)"/>
<rect x="768.78" y="584.5" width="2.6" height="1.2" fill="url(#gd)"/>
<rect x="774.3" y="584.5" width="2.6" height="1.2" fill="url(#gd)"/>
<rect x="785.33" y="581.7" width="2.6" height="2.8" fill="url(#gu)"/>
<rect x="790.85" y="574.7" width="2.6" height="9.8" fill="url(#gu)"/>
<rect x="796.36" y="568.8" width="2.6" height="15.7" fill="url(#gu)"/>
<rect x="801.88" y="566.4" width="2.6" height="18.1" fill="url(#gu)"/>
<rect x="807.39" y="566.4" width="2.6" height="18.1" fill="url(#gu)"/>
<rect x="812.9" y="566.4" width="2.6" height="18.1" fill="url(#gu)"/>
<rect x="818.42" y="567.7" width="2.6" height="16.8" fill="url(#gu)"/>
<rect x="823.93" y="568.8" width="2.6" height="15.7" fill="url(#gu)"/>
<rect x="829.45" y="571.1" width="2.6" height="13.4" fill="url(#gu)"/>
<rect x="834.97" y="567.7" width="2.6" height="16.8" fill="url(#gu)"/>
<rect x="840.48" y="560.9" width="2.6" height="23.6" fill="url(#gu)"/>
<rect x="846" y="560.1" width="2.6" height="24.4" fill="url(#gu)"/>
<rect x="851.51" y="556.2" width="2.6" height="28.3" fill="url(#gu)"/>
<rect x="857.02" y="557" width="2.6" height="27.5" fill="url(#gu)"/>
<rect x="862.54" y="558.5" width="2.6" height="26" fill="url(#gu)"/>
<rect x="868.05" y="564.1" width="2.6" height="20.4" fill="url(#gu)"/>
<rect x="873.57" y="565.2" width="2.6" height="19.3" fill="url(#gu)"/>
<rect x="879.09" y="563" width="2.6" height="21.5" fill="url(#gu)"/>
<rect x="884.6" y="558.5" width="2.6" height="26" fill="url(#gu)"/>
<rect x="890.12" y="562" width="2.6" height="22.5" fill="url(#gu)"/>
<rect x="895.63" y="567.7" width="2.6" height="16.8" fill="url(#gu)"/>
<rect x="901.14" y="567.7" width="2.6" height="16.8" fill="url(#gu)"/>
<rect x="906.66" y="575.9" width="2.6" height="8.6" fill="url(#gu)"/>
<rect x="912.17" y="579" width="2.6" height="5.5" fill="url(#gu)"/>
<rect x="917.69" y="584.5" width="2.6" height="2.1" fill="url(#gd)"/>
<rect x="923.21" y="584.5" width="2.6" height="3.2" fill="url(#gd)"/>
<rect x="928.72" y="584.5" width="2.6" height="3.3" fill="url(#gd)"/>
<rect x="934.24" y="584.5" width="2.6" height="1.2" fill="url(#gd)"/>
<rect x="945.26" y="579.5" width="2.6" height="5" fill="url(#gu)"/>
<rect x="950.78" y="581.8" width="2.6" height="2.7" fill="url(#gu)"/>
<rect x="956.29" y="584.5" width="2.6" height="1.2" fill="url(#gd)"/>
<rect x="961.81" y="584.5" width="2.6" height="2.5" fill="url(#gd)"/>
<rect x="967.33" y="584.5" width="2.6" height="2.5" fill="url(#gd)"/>
<rect x="972.84" y="584.5" width="2.6" height="3.8" fill="url(#gd)"/>
<rect x="978.36" y="584.5" width="2.6" height="6.6" fill="url(#gd)"/>
<rect x="983.87" y="584.5" width="2.6" height="13.1" fill="url(#gd)"/>
<rect x="989.38" y="584.5" width="2.6" height="18.9" fill="url(#gd)"/>
<rect x="994.9" y="584.5" width="2.6" height="23.5" fill="url(#gd)"/>
<rect x="0" y="584" width="1016" height="1" fill="#b4b4b4"/>
<polyline points="3.5,564.85 9.01,551.18 14.53,558.44 20.04,553.36 25.56,556.13 31.07,560.77 36.59,563.67 42.1,567.51 47.62,568.26 53.13,575.67 58.65,580.92 64.16,581.83 69.68,585.33 75.19,587.28 80.71,587.15 86.22,584.87 91.74,583.46 97.25,588.61 102.77,584.73 108.28,585.41 113.8,587.24 119.31,591.12 124.83,594.77 130.34,596.24 135.86,592.18 141.38,591.54 146.89,591.66 152.41,592.94 157.92,597.63 163.44,598.8 168.95,598.04 174.47,600.67 179.98,603.37 185.49,606.76 191.01,616.97 196.52,620.57 202.04,617.87 207.55,613.85 213.07,613.69 218.58,613 224.1,606.74 229.61,594.16 235.13,589.74 240.64,587.68 246.16,586.92 251.67,587.26 257.19,585.25 262.7,585.46 268.22,581.14 273.73,573.28 279.25,565.95 284.76,553.04 290.28,549.08 295.79,543.41 301.31,539.89 306.82,542.56 312.34,548.34 317.85,552.3 323.37,555.4 328.88,553.52 334.4,553.35 339.91,552.92 345.43,552.01 350.94,555.34 356.46,557.72 361.97,554.75 367.49,548.51 373,542.34 378.52,536.91 384.03,530.36 389.55,526.42 395.06,528.69 400.58,532.05 406.09,534.65 411.61,539.98 417.12,543.85 422.64,551.25 428.15,554.52 433.67,555.67 439.19,556.3 444.7,550.4 450.21,547.48 455.73,545.2 461.24,545.78 466.76,548.66 472.27,553.77 477.79,558.38 483.3,562.64 488.82,566.87 494.33,572.4 499.85,579.42 505.36,584.41 510.88,588.14 516.39,589.6 521.91,590.03 527.42,594.66 532.94,602.56 538.45,608.58 543.97,613.57 549.49,617.73 555,619.69 560.51,619.12 566.03,617.38 571.54,617.86 577.06,621.23 582.57,623.51 588.09,624.07 593.61,624.61 599.12,622.35 604.63,619.48 610.15,616.02 615.66,613.5 621.18,607.86 626.69,602.72 632.21,596.25 637.72,589.8 643.24,587.24 648.75,581.62 654.27,577.08 659.78,572.95 665.3,567.33 670.81,564.75 676.33,568.99 681.84,573.2 687.36,579.17 692.88,591.45 698.39,608.68 703.9,627.65 709.42,640.16 714.93,650.58 720.45,651.26 725.96,643.6 731.48,639.44 737,634.89 742.51,627.94 748.02,625.58 753.54,629.59 759.05,632.4 764.57,633.03 770.08,632.49 775.6,632.34 781.12,631.02 786.63,626.17 792.14,616.67 797.66,607.27 803.17,600.67 808.69,596.46 814.2,592.68 819.72,590.21 825.23,587.42 830.75,585.76 836.26,577.97 841.78,566.58 847.29,559.53 852.81,549.32 858.32,542.37 863.84,536.97 869.35,538.25 874.87,534.43 880.38,525.51 885.9,514.7 891.41,513.1 896.93,514.91 902.44,512 907.96,518.37 913.47,520.64 918.99,529.13 924.5,531.58 930.02,532.82 935.53,531.65 941.05,530.03 946.56,524.27 952.08,526.16 957.59,531.05 963.11,532.67 968.62,533.1 974.14,535.58 979.65,540.57 985.17,551.02 990.68,561.59 996.2,571.1" fill="none" stroke="#fff" stroke-width="1.4" stroke-linejoin="round"/>
<polyline points="-3,600 3.5,592.25 9.01,584.18 14.53,577.34 20.04,572.26 25.56,568.63 31.07,567.27 36.59,566.17 42.1,566.71 47.62,567.46 53.13,569.77 58.65,572.02 64.16,574.23 69.68,576.43 75.19,578.38 80.71,580.05 86.22,581.17 91.74,582.46 97.25,584.21 102.77,584.73 108.28,585.41 113.8,586.24 119.31,587.62 124.83,589.07 130.34,590.54 135.86,591.18 141.38,591.54 146.89,591.66 152.41,591.94 157.92,592.73 163.44,593.8 168.95,594.54 174.47,596.17 179.98,597.87 185.49,600.66 191.01,604.07 196.52,606.57 202.04,608.57 207.55,610.05 213.07,611.49 218.58,611.6 224.1,610.84 229.61,607.36 235.13,604.04 240.64,600.88 246.16,598.12 251.67,595.76 257.19,593.75 262.7,591.96 268.22,588.74 273.73,585.58 279.25,582.35 284.76,576.84 290.28,571.28 295.79,565.71 301.31,560.19 306.82,556.96 312.34,555.84 317.85,555.4 323.37,555.4 328.88,555.32 334.4,555.15 339.91,554.72 345.43,553.81 350.94,555.04 356.46,555.32 361.97,554.45 367.49,552.81 373,550.94 378.52,547.91 384.03,544.76 389.55,541.82 395.06,539.69 400.58,538.55 406.09,537.75 411.61,538.68 417.12,540.35 422.64,542.95 428.15,545.32 433.67,547.37 439.19,549.1 444.7,549.1 450.21,548.98 455.73,548.3 461.24,548.48 466.76,548.66 472.27,550.27 477.79,552.28 483.3,554.34 488.82,556.57 494.33,560.5 499.85,564.42 505.36,568.31 510.88,572.04 516.39,575.7 521.91,578.13 527.42,581.96 532.94,586.46 538.45,591.48 543.97,596.47 549.49,601.13 555,604.69 560.51,607.72 566.03,609.08 571.54,610.66 577.06,612.93 582.57,615.21 588.09,616.87 593.61,618.51 599.12,619.95 604.63,619.38 610.15,618.82 615.66,617.8 621.18,615.36 626.69,612.52 632.21,609.55 637.72,606.3 643.24,602.64 648.75,598.12 654.27,593.58 659.78,589.45 665.3,585.33 670.81,581.25 676.33,578.89 681.84,578.6 687.36,579.17 692.88,582.45 698.39,588.58 703.9,596.25 709.42,605.16 714.93,613.48 720.45,620.96 725.96,624.8 731.48,627.54 737,629.79 742.51,629.64 748.02,629.48 753.54,629.59 759.05,630 764.57,630.63 770.08,631.29 775.6,631.14 781.12,630.92 786.63,628.97 792.14,626.47 797.66,622.97 803.17,618.77 808.69,614.56 814.2,610.78 819.72,607.01 825.23,603.12 830.75,599.16 836.26,594.77 841.78,590.18 847.29,583.93 852.81,577.62 858.32,569.87 863.84,562.97 869.35,558.65 874.87,553.73 880.38,547.01 885.9,540.7 891.41,535.6 896.93,531.71 902.44,528.8 907.96,526.97 913.47,526.14 918.99,527.03 924.5,528.38 930.02,529.52 935.53,530.45 941.05,530.03 946.56,529.27 952.08,528.86 957.59,529.85 963.11,530.17 968.62,530.6 974.14,531.78 979.65,533.97 985.17,537.92 990.68,542.69 996.2,547.6" fill="none" stroke="#ff2a2a" stroke-width="1.25" stroke-linejoin="round"/>
</g>
<!-- legend box 1 -->
<rect x="5.5" y="9.5" width="297" height="146" rx="3.5" fill="#f0f0f0" fill-opacity="0.6" stroke="#161616" stroke-width="1"/>
<!-- tree -->
<rect x="14.5" y="22.5" width="7" height="7" fill="#f4f4f4" stroke="#8a8a8a" stroke-width="1"/>
<rect x="16" y="25.6" width="4" height="1" fill="#777"/>
<rect x="17.2" y="30" width="1.3" height="108.8" fill="#9a9a9a"/>
<rect x="17.2" y="45.3" width="4.3" height="1.2" fill="#9a9a9a"/>
<rect x="17.2" y="63.6" width="4.3" height="1.2" fill="#9a9a9a"/>
<rect x="17.2" y="82.2" width="4.3" height="1.2" fill="#9a9a9a"/>
<rect x="17.2" y="100.6" width="4.3" height="1.2" fill="#9a9a9a"/>
<rect x="17.2" y="119" width="4.3" height="1.2" fill="#9a9a9a"/>
<rect x="17.2" y="137.6" width="4.3" height="1.2" fill="#9a9a9a"/>
<rect x="25.2" y="20.1" width="14" height="13.7" fill="#000"/>
<rect x="28.8" y="38.4" width="8.2" height="1.9" fill="#8a8a8a"/>
<rect x="32" y="39" width="1.8" height="13" fill="#8a8a8a"/>
<rect x="25.2" y="63.5" width="14" height="1.4" fill="#8a8a8a"/>
<circle cx="32.4" cy="64.2" r="2" fill="#f0f0f0" stroke="#8a8a8a" stroke-width="1.2"/>
<rect x="32" y="75.4" width="1.8" height="12" fill="#8a8a8a"/>
<rect x="28.8" y="86.8" width="8.2" height="2" fill="#8a8a8a"/>
<rect x="25.2" y="94.2" width="14" height="13.3" fill="#222"/>
<rect x="25.2" y="112.4" width="14" height="13.3" fill="#f5173c"/>
<rect x="25.2" y="131" width="14" height="13.3" fill="#3b9bff"/>
<!-- right axis -->
<rect x="1016" y="0" width="64" height="665" fill="#000"/>
<!-- blue label under -->
<polygon points="1024.5,286 1080,286 1080,305 1024.5,305 1017.2,295.2" fill="#3b9bff"/>
<text x="1027" y="301.6" font-family="Liberation Sans, sans-serif" font-size="16" fill="#0a1a30" transform="translate(1027 0) scale(0.955 1) translate(-1027 0)">98.517</text>
<polygon points="1016,279 1080,279 1080,300.5 1022.3,300.5 1018.4,294" fill="#000"/>
<polygon points="1024.8,226.3 1080,226.3 1080,244.5 1024.8,244.5 1018.6,235.4" fill="#262626"/>
<!-- divider -->
<rect x="0" y="494" width="1080" height="6" fill="#474747"/>
<rect x="0" y="494" width="1080" height="1" fill="#1c1c1c"/>
<rect x="0" y="499" width="1080" height="1" fill="#2c2c2c"/>
<rect x="532" y="495" width="16" height="1" fill="#8a8a8a"/>
<rect x="532" y="497.5" width="16" height="1" fill="#6a6a6a"/>
<!-- macd legend -->
<rect x="0.5" y="503.5" width="185" height="91" rx="3.5" fill="#f0f0f0" fill-opacity="0.6" stroke="#222" stroke-width="1"/>
<rect x="10.2" y="533.4" width="13.6" height="13.6" fill="#fff"/>
<rect x="10.2" y="551.7" width="13.6" height="13.4" fill="#ff0000"/>
<rect x="10.2" y="570.4" width="13.6" height="13.6" fill="#00ff00"/>
<!-- macd value labels -->
<polygon points="1024.9,538.8 1080,538.8 1080,558.4 1024.9,558.4 1018.4,548.7" fill="#ff0000"/>
<polygon points="1024.9,563.2 1080,563.2 1080,582.8 1024.9,582.8 1018.4,572.6" fill="#fff"/>
<polygon points="1024.9,598.3 1080,598.3 1080,618.6 1024.9,618.6 1018.4,608.5" fill="#00ff00"/>
<!-- x axis -->
<rect x="0" y="665.2" width="1016" height="1.5" fill="#1e1e1e"/>
<rect x="9" y="666" width="1" height="3.5" fill="#333"/><rect x="124" y="666" width="1" height="3.5" fill="#333"/><rect x="246" y="666" width="1" height="3.5" fill="#333"/><rect x="373" y="666" width="1" height="3.5" fill="#333"/><rect x="483" y="666" width="1" height="3.5" fill="#333"/><rect x="604" y="666" width="1" height="3.5" fill="#333"/><rect x="720" y="666" width="1" height="3.5" fill="#333"/><rect x="830" y="666" width="1" height="3.5" fill="#333"/><rect x="952" y="666" width="1" height="3.5" fill="#333"/>
<rect x="604" y="685" width="1" height="17" fill="#9a9a9a"/>
<!-- toolbar -->
<rect x="395" y="0" width="277" height="22" fill="#1e1e1e"/>
<rect x="396" y="0" width="275" height="21" fill="#adadad"/>
<rect x="463" y="0" width="1" height="21" fill="#a2a2a2"/>
<rect x="533" y="0" width="1" height="21" fill="#a2a2a2"/>
<rect x="602" y="0" width="1" height="21" fill="#a2a2a2"/>
<rect x="602" y="22" width="70" height="26" fill="#151515"/>
<rect x="603" y="23" width="68" height="24" fill="#303030"/>
<!-- toolbar icons -->
<g stroke="#fff" fill="none">
<polygon points="410.5,4.9 415.2,9.2 410.5,13.5 405.8,9.2" stroke-width="1.2"/>
<line x1="404" y1="9.2" x2="417" y2="9.2" stroke-width="1.2"/>
<line x1="410.5" y1="2.8" x2="410.5" y2="15.8" stroke-width="1.2"/>
<line x1="475.2" y1="13.2" x2="483.3" y2="5.8" stroke-width="2.7" stroke-linecap="round"/>
<line x1="479" y1="14.1" x2="485" y2="14.1" stroke-width="1.4"/>
<circle cx="616.5" cy="7.5" r="4" stroke-width="1.2"/>
<line x1="620" y1="11" x2="623.2" y2="14.6" stroke-width="2.3" stroke-linecap="round"/>
<circle cx="618.6" cy="34.9" r="4.4" stroke-width="2.5"/>
</g>
<g fill="#f4f4f4">
<rect x="544" y="4" width="4" height="3"/>
<rect x="550" y="4" width="4" height="1"/>
<rect x="550" y="6" width="4" height="1" fill="#d8d8d8"/>
<rect x="544" y="9" width="10" height="1"/>
<rect x="544" y="11" width="10" height="1"/>
<rect x="544" y="13" width="10" height="2" fill="#e4e4e4"/>
</g>
</svg>

<!-- legend 1 text -->
<div class="a lc cj" style="left:44px;top:19px">最新价格</div>
<div class="a lc cj" style="left:44px;top:37.4px">最高价</div>
<div class="a lg" style="left:104px;top:39px;letter-spacing:1.1px">03/31/26</div>
<div class="a lc cj" style="left:44px;top:55.7px">平均价</div>
<div class="a lc cj" style="left:44px;top:74px">最低价</div>
<div class="a lg" style="left:104px;top:75.6px;letter-spacing:1.1px">01/27/26</div>
<div class="a lc cj" style="left:44px;top:92.4px">移动平均</div>
<div class="a lc cj" style="left:44px;top:110.7px">移动平均</div>
<div class="a lc cj" style="left:44px;top:129px">移动平均</div>
<div class="a lg" style="left:123.3px;top:92.5px;font-size:16px">(</div>
<div class="a lg" style="left:130px;top:94px">20</div>
<div class="a lg" style="left:148.3px;top:92.5px;font-size:16px">)</div>
<div class="a lg" style="left:166px;top:94px">on</div>
<div class="a lc cj" style="left:189px;top:92.4px">收盘</div>
<div class="a lg" style="left:123.3px;top:110.8px;font-size:16px">(</div>
<div class="a lg" style="left:130px;top:112.3px">100</div>
<div class="a lg" style="left:157.3px;top:110.8px;font-size:16px">)</div>
<div class="a lg" style="left:174px;top:112.3px">on</div>
<div class="a lc cj" style="left:197px;top:110.7px">收盘</div>
<div class="a lg" style="left:123.3px;top:129.1px;font-size:16px">(</div>
<div class="a lg" style="left:130px;top:130.6px">200</div>
<div class="a lg" style="left:157.3px;top:129.1px;font-size:16px">)</div>
<div class="a lg" style="left:174px;top:130.6px">on</div>
<div class="a lc cj" style="left:197px;top:129px">收盘</div>
<div class="a lg" style="right:786px;top:21px">98.650</div>
<div class="a lg" style="right:786px;top:39.4px">100.643</div>
<div class="a lg" style="right:786px;top:57.7px">98.586</div>
<div class="a lg" style="right:786px;top:76px">95.551</div>
<div class="a lg" style="right:786px;top:94.4px">99.645</div>
<div class="a lg" style="right:786px;top:112.7px">98.637</div>
<div class="a lg" style="right:786px;top:131px">98.517</div>

<!-- macd legend text -->
<div class="a lg" style="left:80px;top:515px;letter-spacing:-1.8px">DXY</div>
<div class="a lg" style="left:28px;top:533.5px;letter-spacing:-0.4px">MACD(12,26)</div>
<div class="a lg" style="left:28px;top:552px">Sig(9)</div>
<div class="a lg" style="left:28px;top:570.5px">Diff</div>
<div class="a lg" style="left:132px;top:533.5px">0.0971</div>
<div class="a lg" style="left:132px;top:552px">0.297</div>
<div class="a lg" style="left:126px;top:570.5px">-0.20</div>

<!-- right axis labels -->
<div class="a ax" style="left:1027px;top:-0.3px">104.000</div>
<div class="a ax" style="left:1027px;top:49.7px">103.000</div>
<div class="a ax" style="left:1027px;top:103.4px">102.000</div>
<div class="a ax" style="left:1027px;top:157.2px">101.000</div>
<div class="a ax" style="left:1027px;top:209.8px">100.000</div>
<div class="a ax" style="left:1027px;top:262.5px">99.000</div>
<div class="a ax" style="left:1027px;top:315.2px">98.000</div>
<div class="a ax" style="left:1027px;top:369.2px">97.000</div>
<div class="a ax" style="left:1027px;top:422.2px">96.000</div>
<div class="a ax" style="left:1027px;top:475.0px">95.000</div>
<div class="a ax" style="left:1026px;top:228.9px">99.645</div>
<div class="a ax" style="left:1026px;top:281.9px">98.650</div>
<div class="a ax" style="left:1027px;top:517.2px">0.50</div>
<div class="a ax" style="left:1027px;top:578.2px">0.00</div>
<div class="a ax" style="left:1028.5px;top:637.7px">-0.50</div>
<!-- macd value labels text (over white label) -->
<div class="a ax" style="left:1025.5px;top:542.2px;color:#fff">0.297</div>
<div class="a ax" style="left:1025.5px;top:565.5px;color:#101030">0.0971</div>
<div class="a ax" style="left:1026px;top:601.2px;color:#0a0a0a">-0.20</div>

<!-- x axis labels -->
<div class="a xl" style="left:52.5px;top:668.6px">8<span class="cj" style="font-size:17px;margin-left:0.5px">月</span></div>
<div class="a xl" style="left:171.5px;top:668.6px">9<span class="cj" style="font-size:17px;margin-left:0.5px">月</span></div>
<div class="a xl" style="left:290.5px;top:668.6px">10<span class="cj" style="font-size:17px;margin-left:0.5px">月</span></div>
<div class="a xl" style="left:409.5px;top:668.6px">11<span class="cj" style="font-size:17px;margin-left:0.5px">月</span></div>
<div class="a xl" style="left:525.5px;top:668.6px">12<span class="cj" style="font-size:17px;margin-left:0.5px">月</span></div>
<div class="a xl" style="left:647.5px;top:668.6px">1<span class="cj" style="font-size:17px;margin-left:0.5px">月</span></div>
<div class="a xl" style="left:760.5px;top:668.6px">2<span class="cj" style="font-size:17px;margin-left:0.5px">月</span></div>
<div class="a xl" style="left:876.5px;top:668.6px">3<span class="cj" style="font-size:17px;margin-left:0.5px">月</span></div>
<div class="a xl" style="left:989.5px;top:668.6px">4<span class="cj" style="font-size:17px;margin-left:0.5px">月</span></div>
<div class="a xl" style="left:284px;top:687.6px;font-size:15px">2025</div>
<div class="a xl" style="left:794px;top:687.6px;font-size:15px">2026</div>

<!-- toolbar text -->
<div class="a tb cj" style="left:426px;top:1px">追踪</div>
<div class="a tb cj" style="left:495px;top:1px">注释</div>
<div class="a tb cj" style="left:565px;top:1px">新闻</div>
<div class="a tb cj" style="left:634px;top:1px">缩放</div>
<div class="a tb cj" style="left:634px;top:26px;color:#c4c4c4">重设</div>

<!-- watermark -->
<div class="a" style="left:983.1px;top:2.6px;font-size:28px;color:#dd0000">L70.CN</div>
</body>
</html>
